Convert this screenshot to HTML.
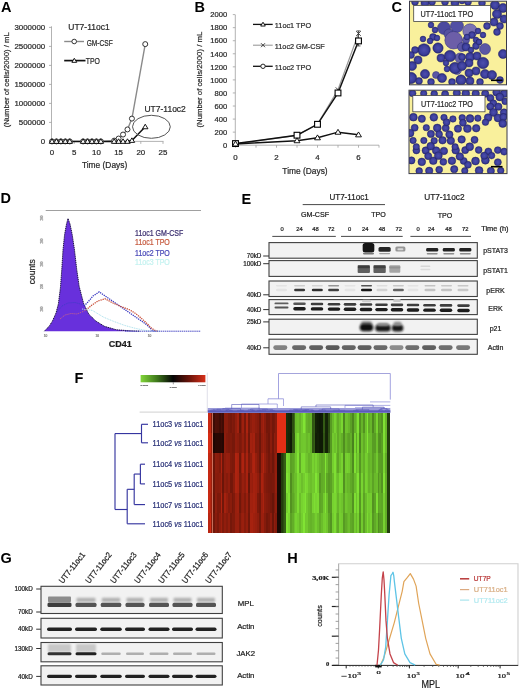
<!DOCTYPE html>
<html><head><meta charset="utf-8"><style>
html,body{margin:0;padding:0;background:#fff;}
body{width:520px;height:690px;overflow:hidden;}
svg{display:block;filter:blur(0.3px);font-family:"Liberation Sans", sans-serif;}
text{stroke-width:0.22px;paint-order:stroke;}
</style></head><body>
<svg width="520" height="690" viewBox="0 0 520 690">
<defs><radialGradient id="cellg"><stop offset="0" stop-color="#4c4eae"/><stop offset="0.7" stop-color="#3b3d9a"/><stop offset="1" stop-color="#25276e"/></radialGradient>
<clipPath id="c1"><rect x="409.5" y="1.2" width="97" height="83.6"/></clipPath>
<clipPath id="c2"><rect x="409" y="90.2" width="98" height="83.4"/></clipPath>
<filter id="bl" x="-20%" y="-50%" width="140%" height="200%"><feGaussianBlur stdDeviation="0.55"/></filter>
<filter id="bl2" x="-20%" y="-50%" width="140%" height="200%"><feGaussianBlur stdDeviation="0.9"/></filter>
<linearGradient id="cbar" x1="0" x2="1" y1="0" y2="0"><stop offset="0" stop-color="#82d63a"/><stop offset="0.25" stop-color="#3f7a1c"/><stop offset="0.5" stop-color="#050505"/><stop offset="0.75" stop-color="#6a140a"/><stop offset="1" stop-color="#d8301a"/></linearGradient></defs>
<rect width="520" height="690" fill="#fff"/>
<text x="0.9" y="11.6" font-size="14.5" font-weight="bold" fill="#000">A</text>
<text x="194.4" y="11.8" font-size="14.5" font-weight="bold" fill="#000">B</text>
<text x="391.4" y="11.6" font-size="14.5" font-weight="bold" fill="#000">C</text>
<text x="0.6" y="203.4" font-size="14.5" font-weight="bold" fill="#000">D</text>
<text x="241.4" y="203.8" font-size="14.5" font-weight="bold" fill="#000">E</text>
<text x="74.6" y="382.9" font-size="14.5" font-weight="bold" fill="#000">F</text>
<text x="0.4" y="562.8" font-size="14.5" font-weight="bold" fill="#000">G</text>
<text x="287.3" y="562.8" font-size="14.5" font-weight="bold" fill="#000">H</text>
<line x1="51.5" y1="26.3" x2="51.5" y2="141.4" stroke="#a0a0a0" stroke-width="0.8"/>
<line x1="51.5" y1="141.4" x2="163.5" y2="141.4" stroke="#a0a0a0" stroke-width="0.8"/>
<line x1="49" y1="141.4" x2="51.5" y2="141.4" stroke="#a0a0a0" stroke-width="0.8"/>
<text x="45.2" y="144.24" font-size="7.9" fill="#2a2a2a" stroke="#2a2a2a" text-anchor="end">0</text>
<line x1="49" y1="122.4" x2="51.5" y2="122.4" stroke="#a0a0a0" stroke-width="0.8"/>
<text x="45.2" y="125.24" font-size="7.9" fill="#2a2a2a" stroke="#2a2a2a" text-anchor="end">500000</text>
<line x1="49" y1="103.4" x2="51.5" y2="103.4" stroke="#a0a0a0" stroke-width="0.8"/>
<text x="45.2" y="106.24" font-size="7.9" fill="#2a2a2a" stroke="#2a2a2a" text-anchor="end">1000000</text>
<line x1="49" y1="84.4" x2="51.5" y2="84.4" stroke="#a0a0a0" stroke-width="0.8"/>
<text x="45.2" y="87.24" font-size="7.9" fill="#2a2a2a" stroke="#2a2a2a" text-anchor="end">1500000</text>
<line x1="49" y1="65.4" x2="51.5" y2="65.4" stroke="#a0a0a0" stroke-width="0.8"/>
<text x="45.2" y="68.24" font-size="7.9" fill="#2a2a2a" stroke="#2a2a2a" text-anchor="end">2000000</text>
<line x1="49" y1="46.4" x2="51.5" y2="46.4" stroke="#a0a0a0" stroke-width="0.8"/>
<text x="45.2" y="49.24" font-size="7.9" fill="#2a2a2a" stroke="#2a2a2a" text-anchor="end">2500000</text>
<line x1="49" y1="27.4" x2="51.5" y2="27.4" stroke="#a0a0a0" stroke-width="0.8"/>
<text x="45.2" y="30.24" font-size="7.9" fill="#2a2a2a" stroke="#2a2a2a" text-anchor="end">3000000</text>
<line x1="52" y1="141.4" x2="52" y2="143.9" stroke="#a0a0a0" stroke-width="0.8"/>
<text x="52" y="155.04" font-size="7.9" fill="#2a2a2a" stroke="#2a2a2a" text-anchor="middle">0</text>
<line x1="74.2" y1="141.4" x2="74.2" y2="143.9" stroke="#a0a0a0" stroke-width="0.8"/>
<text x="74.2" y="155.04" font-size="7.9" fill="#2a2a2a" stroke="#2a2a2a" text-anchor="middle">5</text>
<line x1="96.4" y1="141.4" x2="96.4" y2="143.9" stroke="#a0a0a0" stroke-width="0.8"/>
<text x="96.4" y="155.04" font-size="7.9" fill="#2a2a2a" stroke="#2a2a2a" text-anchor="middle">10</text>
<line x1="118.6" y1="141.4" x2="118.6" y2="143.9" stroke="#a0a0a0" stroke-width="0.8"/>
<text x="118.6" y="155.04" font-size="7.9" fill="#2a2a2a" stroke="#2a2a2a" text-anchor="middle">15</text>
<line x1="140.8" y1="141.4" x2="140.8" y2="143.9" stroke="#a0a0a0" stroke-width="0.8"/>
<text x="140.8" y="155.04" font-size="7.9" fill="#2a2a2a" stroke="#2a2a2a" text-anchor="middle">20</text>
<line x1="163" y1="141.4" x2="163" y2="143.9" stroke="#a0a0a0" stroke-width="0.8"/>
<text x="163" y="155.04" font-size="7.9" fill="#2a2a2a" stroke="#2a2a2a" text-anchor="middle">25</text>
<text x="104.6" y="168.32" font-size="8.4" fill="#2a2a2a" stroke="#2a2a2a" text-anchor="middle">Time (Days)</text>
<text x="5.8" y="82.54" font-size="7.6" fill="#2a2a2a" stroke="#2a2a2a" text-anchor="middle" textLength="95" lengthAdjust="spacingAndGlyphs" transform="rotate(-90 5.8 79.8)">(Number of cells/2000) / mL</text>
<text x="68.3" y="30.22" font-size="8.4" fill="#2a2a2a" stroke="#2a2a2a" textLength="41.3" lengthAdjust="spacingAndGlyphs">UT7-11oc1</text>
<line x1="64.2" y1="41.5" x2="84" y2="41.5" stroke="#8a8a8a" stroke-width="1.4"/>
<circle cx="74.2" cy="41.5" r="2.3" fill="#fff" stroke="#333" stroke-width="1"/>
<text x="86.7" y="46.36" font-size="8.5" fill="#2a2a2a" stroke="#2a2a2a" textLength="26" lengthAdjust="spacingAndGlyphs">GM-CSF</text>
<line x1="64.2" y1="60.6" x2="85.5" y2="60.6" stroke="#111" stroke-width="1.7"/>
<polygon points="74.3,58.3 76.72,62.33 71.88,62.33" fill="#fff" stroke="#000" stroke-width="0.9"/>
<text x="85.8" y="64.06" font-size="8.5" fill="#2a2a2a" stroke="#2a2a2a" textLength="14.2" lengthAdjust="spacingAndGlyphs">TPO</text>
<polyline points="52,141.4 56.44,141.4 60.88,141.4 65.32,141.4 69.76,141.4 83.08,141.4 87.52,141.4 91.96,141.4 96.4,141.4 100.84,141.4 114.16,140.64 118.6,138.55 123.04,134.56 127.48,129.43 131.92,118.6 145.24,44.12" fill="none" stroke="#8a8a8a" stroke-width="1.4"/>
<polyline points="52,141.4 56.44,141.4 60.88,141.4 65.32,141.4 69.76,141.4 83.08,141.4 87.52,141.4 91.96,141.4 96.4,141.4 100.84,141.4 114.16,141.4 118.6,141.4 123.04,141.4 127.48,141.4 131.92,140.45 145.24,126.81" fill="none" stroke="#111" stroke-width="1.5"/>
<circle cx="52" cy="141.4" r="2.5" fill="#fff" stroke="#333" stroke-width="1"/>
<circle cx="56.44" cy="141.4" r="2.5" fill="#fff" stroke="#333" stroke-width="1"/>
<circle cx="60.88" cy="141.4" r="2.5" fill="#fff" stroke="#333" stroke-width="1"/>
<circle cx="65.32" cy="141.4" r="2.5" fill="#fff" stroke="#333" stroke-width="1"/>
<circle cx="69.76" cy="141.4" r="2.5" fill="#fff" stroke="#333" stroke-width="1"/>
<circle cx="83.08" cy="141.4" r="2.5" fill="#fff" stroke="#333" stroke-width="1"/>
<circle cx="87.52" cy="141.4" r="2.5" fill="#fff" stroke="#333" stroke-width="1"/>
<circle cx="91.96" cy="141.4" r="2.5" fill="#fff" stroke="#333" stroke-width="1"/>
<circle cx="96.4" cy="141.4" r="2.5" fill="#fff" stroke="#333" stroke-width="1"/>
<circle cx="100.84" cy="141.4" r="2.5" fill="#fff" stroke="#333" stroke-width="1"/>
<circle cx="114.16" cy="140.64" r="2.5" fill="#fff" stroke="#333" stroke-width="1"/>
<circle cx="118.6" cy="138.55" r="2.5" fill="#fff" stroke="#333" stroke-width="1"/>
<circle cx="123.04" cy="134.56" r="2.5" fill="#fff" stroke="#333" stroke-width="1"/>
<circle cx="127.48" cy="129.43" r="2.5" fill="#fff" stroke="#333" stroke-width="1"/>
<circle cx="131.92" cy="118.6" r="2.5" fill="#fff" stroke="#333" stroke-width="1"/>
<circle cx="145.24" cy="44.12" r="2.5" fill="#fff" stroke="#333" stroke-width="1"/>
<polygon points="52,138.8 54.73,143.35 49.27,143.35" fill="#fff" stroke="#000" stroke-width="0.9"/>
<polygon points="56.44,138.8 59.17,143.35 53.71,143.35" fill="#fff" stroke="#000" stroke-width="0.9"/>
<polygon points="60.88,138.8 63.61,143.35 58.15,143.35" fill="#fff" stroke="#000" stroke-width="0.9"/>
<polygon points="65.32,138.8 68.05,143.35 62.59,143.35" fill="#fff" stroke="#000" stroke-width="0.9"/>
<polygon points="69.76,138.8 72.49,143.35 67.03,143.35" fill="#fff" stroke="#000" stroke-width="0.9"/>
<polygon points="83.08,138.8 85.81,143.35 80.35,143.35" fill="#fff" stroke="#000" stroke-width="0.9"/>
<polygon points="87.52,138.8 90.25,143.35 84.79,143.35" fill="#fff" stroke="#000" stroke-width="0.9"/>
<polygon points="91.96,138.8 94.69,143.35 89.23,143.35" fill="#fff" stroke="#000" stroke-width="0.9"/>
<polygon points="96.4,138.8 99.13,143.35 93.67,143.35" fill="#fff" stroke="#000" stroke-width="0.9"/>
<polygon points="100.84,138.8 103.57,143.35 98.11,143.35" fill="#fff" stroke="#000" stroke-width="0.9"/>
<polygon points="114.16,138.8 116.89,143.35 111.43,143.35" fill="#fff" stroke="#000" stroke-width="0.9"/>
<polygon points="118.6,138.8 121.33,143.35 115.87,143.35" fill="#fff" stroke="#000" stroke-width="0.9"/>
<polygon points="123.04,138.8 125.77,143.35 120.31,143.35" fill="#fff" stroke="#000" stroke-width="0.9"/>
<polygon points="127.48,138.8 130.21,143.35 124.75,143.35" fill="#fff" stroke="#000" stroke-width="0.9"/>
<polygon points="131.92,137.85 134.65,142.4 129.19,142.4" fill="#fff" stroke="#000" stroke-width="0.9"/>
<polygon points="145.24,124.21 147.97,128.76 142.51,128.76" fill="#fff" stroke="#000" stroke-width="0.9"/>
<ellipse cx="151.4" cy="126.8" rx="18.9" ry="11.5" fill="none" stroke="#555" stroke-width="1.0"/>
<text x="144.5" y="112.02" font-size="8.4" fill="#2a2a2a" stroke="#2a2a2a" textLength="41.3" lengthAdjust="spacingAndGlyphs">UT7-11oc2</text>
<line x1="235.3" y1="14.8" x2="235.3" y2="145.2" stroke="#a0a0a0" stroke-width="0.8"/>
<line x1="235.3" y1="145.2" x2="379" y2="145.2" stroke="#a0a0a0" stroke-width="0.8"/>
<line x1="232.8" y1="145.2" x2="235.3" y2="145.2" stroke="#a0a0a0" stroke-width="0.8"/>
<text x="227.2" y="147.94" font-size="7.6" fill="#2a2a2a" stroke="#2a2a2a" text-anchor="end">0</text>
<line x1="232.8" y1="132.14" x2="235.3" y2="132.14" stroke="#a0a0a0" stroke-width="0.8"/>
<text x="227.2" y="134.88" font-size="7.6" fill="#2a2a2a" stroke="#2a2a2a" text-anchor="end">200</text>
<line x1="232.8" y1="119.08" x2="235.3" y2="119.08" stroke="#a0a0a0" stroke-width="0.8"/>
<text x="227.2" y="121.82" font-size="7.6" fill="#2a2a2a" stroke="#2a2a2a" text-anchor="end">400</text>
<line x1="232.8" y1="106.02" x2="235.3" y2="106.02" stroke="#a0a0a0" stroke-width="0.8"/>
<text x="227.2" y="108.76" font-size="7.6" fill="#2a2a2a" stroke="#2a2a2a" text-anchor="end">600</text>
<line x1="232.8" y1="92.96" x2="235.3" y2="92.96" stroke="#a0a0a0" stroke-width="0.8"/>
<text x="227.2" y="95.7" font-size="7.6" fill="#2a2a2a" stroke="#2a2a2a" text-anchor="end">800</text>
<line x1="232.8" y1="79.9" x2="235.3" y2="79.9" stroke="#a0a0a0" stroke-width="0.8"/>
<text x="227.2" y="82.64" font-size="7.6" fill="#2a2a2a" stroke="#2a2a2a" text-anchor="end">1000</text>
<line x1="232.8" y1="66.84" x2="235.3" y2="66.84" stroke="#a0a0a0" stroke-width="0.8"/>
<text x="227.2" y="69.58" font-size="7.6" fill="#2a2a2a" stroke="#2a2a2a" text-anchor="end">1200</text>
<line x1="232.8" y1="53.78" x2="235.3" y2="53.78" stroke="#a0a0a0" stroke-width="0.8"/>
<text x="227.2" y="56.52" font-size="7.6" fill="#2a2a2a" stroke="#2a2a2a" text-anchor="end">1400</text>
<line x1="232.8" y1="40.72" x2="235.3" y2="40.72" stroke="#a0a0a0" stroke-width="0.8"/>
<text x="227.2" y="43.46" font-size="7.6" fill="#2a2a2a" stroke="#2a2a2a" text-anchor="end">1600</text>
<line x1="232.8" y1="27.66" x2="235.3" y2="27.66" stroke="#a0a0a0" stroke-width="0.8"/>
<text x="227.2" y="30.4" font-size="7.6" fill="#2a2a2a" stroke="#2a2a2a" text-anchor="end">1800</text>
<line x1="232.8" y1="14.6" x2="235.3" y2="14.6" stroke="#a0a0a0" stroke-width="0.8"/>
<text x="227.2" y="17.34" font-size="7.6" fill="#2a2a2a" stroke="#2a2a2a" text-anchor="end">2000</text>
<line x1="235.5" y1="145.2" x2="235.5" y2="147.7" stroke="#a0a0a0" stroke-width="0.8"/>
<line x1="256" y1="145.2" x2="256" y2="147.7" stroke="#a0a0a0" stroke-width="0.8"/>
<line x1="276.5" y1="145.2" x2="276.5" y2="147.7" stroke="#a0a0a0" stroke-width="0.8"/>
<line x1="297" y1="145.2" x2="297" y2="147.7" stroke="#a0a0a0" stroke-width="0.8"/>
<line x1="317.5" y1="145.2" x2="317.5" y2="147.7" stroke="#a0a0a0" stroke-width="0.8"/>
<line x1="338" y1="145.2" x2="338" y2="147.7" stroke="#a0a0a0" stroke-width="0.8"/>
<line x1="358.5" y1="145.2" x2="358.5" y2="147.7" stroke="#a0a0a0" stroke-width="0.8"/>
<line x1="379" y1="145.2" x2="379" y2="147.7" stroke="#a0a0a0" stroke-width="0.8"/>
<text x="235.5" y="159.84" font-size="7.9" fill="#2a2a2a" stroke="#2a2a2a" text-anchor="middle">0</text>
<text x="276.5" y="159.84" font-size="7.9" fill="#2a2a2a" stroke="#2a2a2a" text-anchor="middle">2</text>
<text x="317.5" y="159.84" font-size="7.9" fill="#2a2a2a" stroke="#2a2a2a" text-anchor="middle">4</text>
<text x="358.5" y="159.84" font-size="7.9" fill="#2a2a2a" stroke="#2a2a2a" text-anchor="middle">6</text>
<text x="305" y="174.22" font-size="8.4" fill="#2a2a2a" stroke="#2a2a2a" text-anchor="middle">Time (Days)</text>
<text x="199.5" y="82.34" font-size="7.6" fill="#2a2a2a" stroke="#2a2a2a" text-anchor="middle" textLength="95.8" lengthAdjust="spacingAndGlyphs" transform="rotate(-90 199.5 79.6)">(Number of cells/2000) / mL</text>
<line x1="253" y1="24.4" x2="272.7" y2="24.4" stroke="#111" stroke-width="1.3"/>
<polygon points="263,22.2 265.31,26.05 260.69,26.05" fill="#fff" stroke="#000" stroke-width="0.9"/>
<text x="274.8" y="28.04" font-size="7.9" fill="#2a2a2a" stroke="#2a2a2a" textLength="36.3" lengthAdjust="spacingAndGlyphs">11oc1 TPO</text>
<line x1="253" y1="45.2" x2="272.7" y2="45.2" stroke="#9a9a9a" stroke-width="1.1"/>
<line x1="261" y1="43.2" x2="265" y2="47.2" stroke="#333" stroke-width="0.9"/>
<line x1="261" y1="47.2" x2="265" y2="43.2" stroke="#333" stroke-width="0.9"/>
<text x="274.8" y="49.24" font-size="7.9" fill="#2a2a2a" stroke="#2a2a2a" textLength="50" lengthAdjust="spacingAndGlyphs">11oc2 GM-CSF</text>
<line x1="253" y1="66.3" x2="272.7" y2="66.3" stroke="#111" stroke-width="1.3"/>
<circle cx="263" cy="66.3" r="2.2" fill="#fff" stroke="#111" stroke-width="0.9"/>
<text x="274.8" y="69.94" font-size="7.9" fill="#2a2a2a" stroke="#2a2a2a" textLength="36.3" lengthAdjust="spacingAndGlyphs">11oc2 TPO</text>
<polyline points="235.5,143.89 297,135.41 317.5,123.98 338,89.69 358.5,33.54" fill="none" stroke="#9a9a9a" stroke-width="1.2"/>
<polyline points="235.5,143.57 297,135.21 317.5,124.3 338,92.96 358.5,40.92" fill="none" stroke="#111" stroke-width="1.5"/>
<polyline points="235.5,143.89 297,140.63 317.5,137.69 338,132.14 358.5,134.75" fill="none" stroke="#111" stroke-width="1.5"/>
<line x1="358.5" y1="30.92" x2="358.5" y2="45.94" stroke="#333" stroke-width="0.8"/>
<line x1="356.5" y1="30.92" x2="360.5" y2="30.92" stroke="#333" stroke-width="0.8"/>
<line x1="356.5" y1="45.94" x2="360.5" y2="45.94" stroke="#333" stroke-width="0.8"/>
<line x1="233.2" y1="141.59" x2="237.8" y2="146.19" stroke="#333" stroke-width="0.9"/>
<line x1="233.2" y1="146.19" x2="237.8" y2="141.59" stroke="#333" stroke-width="0.9"/>
<line x1="294.7" y1="133.1" x2="299.3" y2="137.71" stroke="#333" stroke-width="0.9"/>
<line x1="294.7" y1="137.71" x2="299.3" y2="133.1" stroke="#333" stroke-width="0.9"/>
<line x1="315.2" y1="121.68" x2="319.8" y2="126.28" stroke="#333" stroke-width="0.9"/>
<line x1="315.2" y1="126.28" x2="319.8" y2="121.68" stroke="#333" stroke-width="0.9"/>
<line x1="335.7" y1="87.39" x2="340.3" y2="91.99" stroke="#333" stroke-width="0.9"/>
<line x1="335.7" y1="91.99" x2="340.3" y2="87.39" stroke="#333" stroke-width="0.9"/>
<line x1="356.2" y1="31.24" x2="360.8" y2="35.84" stroke="#333" stroke-width="0.9"/>
<line x1="356.2" y1="35.84" x2="360.8" y2="31.24" stroke="#333" stroke-width="0.9"/>
<rect x="232.6" y="140.67" width="5.8" height="5.8" fill="#fff" stroke="#000" stroke-width="1.1"/>
<rect x="294.1" y="132.31" width="5.8" height="5.8" fill="#fff" stroke="#000" stroke-width="1.1"/>
<rect x="314.6" y="121.4" width="5.8" height="5.8" fill="#fff" stroke="#000" stroke-width="1.1"/>
<rect x="335.1" y="90.06" width="5.8" height="5.8" fill="#fff" stroke="#000" stroke-width="1.1"/>
<rect x="355.6" y="38.02" width="5.8" height="5.8" fill="#fff" stroke="#000" stroke-width="1.1"/>
<polygon points="235.5,141.09 238.44,145.99 232.56,145.99" fill="#fff" stroke="#000" stroke-width="0.9"/>
<polygon points="297,137.83 299.94,142.73 294.06,142.73" fill="#fff" stroke="#000" stroke-width="0.9"/>
<polygon points="317.5,134.89 320.44,139.79 314.56,139.79" fill="#fff" stroke="#000" stroke-width="0.9"/>
<polygon points="338,129.34 340.94,134.24 335.06,134.24" fill="#fff" stroke="#000" stroke-width="0.9"/>
<polygon points="358.5,131.95 361.44,136.85 355.56,136.85" fill="#fff" stroke="#000" stroke-width="0.9"/>
<rect x="409.5" y="1.2" width="97" height="83.6" fill="#f9f09c"/>
<g clip-path="url(#c1)">
<circle cx="444" cy="28" r="6.5" fill="#4c4a9e" stroke="#2e2f78" stroke-width="0.5"/>
<circle cx="457" cy="26" r="6.5" fill="#5250a4" stroke="#2e2f78" stroke-width="0.5"/>
<circle cx="449" cy="34" r="5" fill="#55529f" stroke="#2e2f78" stroke-width="0.5"/>
<circle cx="453.6" cy="40.2" r="8.8" fill="#6c5ea8" stroke="#2e2f78" stroke-width="0.5"/>
<circle cx="470" cy="31" r="7.2" fill="#7a72b4" stroke="#2e2f78" stroke-width="0.5"/>
<circle cx="462" cy="47" r="4.5" fill="#5a55a5" stroke="#2e2f78" stroke-width="0.5"/>
<circle cx="466" cy="40" r="3.5" fill="#5a55a5" stroke="#2e2f78" stroke-width="0.5"/>
<circle cx="460" cy="58" r="5" fill="#6460a8" stroke="#2e2f78" stroke-width="0.5"/>
<circle cx="457" cy="70" r="4.5" fill="#6662aa" stroke="#2e2f78" stroke-width="0.5"/>
<circle cx="415" cy="2" r="3.45" fill="url(#cellg)" stroke="#2e2f78" stroke-width="0.5"/>
<circle cx="425" cy="3" r="4.02" fill="url(#cellg)" stroke="#2e2f78" stroke-width="0.5"/>
<circle cx="432" cy="2" r="3.45" fill="url(#cellg)" stroke="#2e2f78" stroke-width="0.5"/>
<circle cx="445" cy="2" r="3.45" fill="url(#cellg)" stroke="#2e2f78" stroke-width="0.5"/>
<circle cx="455" cy="3" r="4.02" fill="url(#cellg)" stroke="#2e2f78" stroke-width="0.5"/>
<circle cx="468" cy="2" r="3.45" fill="url(#cellg)" stroke="#2e2f78" stroke-width="0.5"/>
<circle cx="482" cy="3" r="3.45" fill="url(#cellg)" stroke="#2e2f78" stroke-width="0.5"/>
<circle cx="462" cy="1" r="2.88" fill="url(#cellg)" stroke="#2e2f78" stroke-width="0.5"/>
<circle cx="495" cy="5" r="4.6" fill="url(#cellg)" stroke="#2e2f78" stroke-width="0.5"/>
<circle cx="503" cy="8" r="4.6" fill="url(#cellg)" stroke="#2e2f78" stroke-width="0.5"/>
<circle cx="497" cy="14" r="4.6" fill="url(#cellg)" stroke="#2e2f78" stroke-width="0.5"/>
<circle cx="504" cy="19" r="4.02" fill="url(#cellg)" stroke="#2e2f78" stroke-width="0.5"/>
<circle cx="494" cy="22" r="4.02" fill="url(#cellg)" stroke="#2e2f78" stroke-width="0.5"/>
<circle cx="500" cy="26" r="3.45" fill="url(#cellg)" stroke="#2e2f78" stroke-width="0.5"/>
<circle cx="431" cy="25" r="2.88" fill="url(#cellg)" stroke="#2e2f78" stroke-width="0.5"/>
<circle cx="435" cy="30" r="2.88" fill="url(#cellg)" stroke="#2e2f78" stroke-width="0.5"/>
<circle cx="433" cy="37" r="3.45" fill="url(#cellg)" stroke="#2e2f78" stroke-width="0.5"/>
<circle cx="430" cy="41" r="2.88" fill="url(#cellg)" stroke="#2e2f78" stroke-width="0.5"/>
<circle cx="423" cy="39" r="2.88" fill="url(#cellg)" stroke="#2e2f78" stroke-width="0.5"/>
<circle cx="437" cy="38" r="2.88" fill="url(#cellg)" stroke="#2e2f78" stroke-width="0.5"/>
<circle cx="478" cy="31" r="2.88" fill="url(#cellg)" stroke="#2e2f78" stroke-width="0.5"/>
<circle cx="483" cy="35" r="2.88" fill="url(#cellg)" stroke="#2e2f78" stroke-width="0.5"/>
<circle cx="472" cy="35" r="3.45" fill="url(#cellg)" stroke="#2e2f78" stroke-width="0.5"/>
<circle cx="476" cy="40" r="2.88" fill="url(#cellg)" stroke="#2e2f78" stroke-width="0.5"/>
<circle cx="467" cy="37" r="2.88" fill="url(#cellg)" stroke="#2e2f78" stroke-width="0.5"/>
<circle cx="497" cy="32" r="3.45" fill="url(#cellg)" stroke="#2e2f78" stroke-width="0.5"/>
<circle cx="479" cy="42" r="2.88" fill="url(#cellg)" stroke="#2e2f78" stroke-width="0.5"/>
<circle cx="487" cy="26" r="3.45" fill="url(#cellg)" stroke="#2e2f78" stroke-width="0.5"/>
<circle cx="424" cy="50" r="6.32" fill="url(#cellg)" stroke="#2e2f78" stroke-width="0.5"/>
<circle cx="415" cy="50" r="3.45" fill="url(#cellg)" stroke="#2e2f78" stroke-width="0.5"/>
<circle cx="438" cy="48" r="5.17" fill="url(#cellg)" stroke="#2e2f78" stroke-width="0.5"/>
<circle cx="411" cy="55" r="3.45" fill="url(#cellg)" stroke="#2e2f78" stroke-width="0.5"/>
<circle cx="418" cy="60" r="4.02" fill="url(#cellg)" stroke="#2e2f78" stroke-width="0.5"/>
<circle cx="412" cy="66" r="4.6" fill="url(#cellg)" stroke="#2e2f78" stroke-width="0.5"/>
<circle cx="441" cy="58" r="4.02" fill="url(#cellg)" stroke="#2e2f78" stroke-width="0.5"/>
<circle cx="450" cy="56" r="5.75" fill="url(#cellg)" stroke="#2e2f78" stroke-width="0.5"/>
<circle cx="455" cy="68" r="5.75" fill="url(#cellg)" stroke="#2e2f78" stroke-width="0.5"/>
<circle cx="447" cy="69" r="2.88" fill="url(#cellg)" stroke="#2e2f78" stroke-width="0.5"/>
<circle cx="411" cy="78" r="5.75" fill="url(#cellg)" stroke="#2e2f78" stroke-width="0.5"/>
<circle cx="425" cy="74" r="4.6" fill="url(#cellg)" stroke="#2e2f78" stroke-width="0.5"/>
<circle cx="436" cy="75" r="3.5" fill="#5a57a5" stroke="#2e2f78" stroke-width="0.5"/>
<circle cx="442" cy="78" r="4.6" fill="url(#cellg)" stroke="#2e2f78" stroke-width="0.5"/>
<circle cx="431" cy="82" r="3.45" fill="url(#cellg)" stroke="#2e2f78" stroke-width="0.5"/>
<circle cx="452" cy="82" r="3.45" fill="url(#cellg)" stroke="#2e2f78" stroke-width="0.5"/>
<circle cx="419" cy="81" r="3.45" fill="url(#cellg)" stroke="#2e2f78" stroke-width="0.5"/>
<circle cx="446" cy="63" r="2.88" fill="url(#cellg)" stroke="#2e2f78" stroke-width="0.5"/>
<circle cx="466" cy="47" r="4.02" fill="url(#cellg)" stroke="#2e2f78" stroke-width="0.5"/>
<circle cx="476" cy="46" r="3.45" fill="url(#cellg)" stroke="#2e2f78" stroke-width="0.5"/>
<circle cx="471" cy="50" r="2.88" fill="url(#cellg)" stroke="#2e2f78" stroke-width="0.5"/>
<circle cx="485" cy="49" r="5.5" fill="#5a57a5" stroke="#2e2f78" stroke-width="0.5"/>
<circle cx="470" cy="57" r="4.6" fill="url(#cellg)" stroke="#2e2f78" stroke-width="0.5"/>
<circle cx="477" cy="56" r="4.02" fill="url(#cellg)" stroke="#2e2f78" stroke-width="0.5"/>
<circle cx="462" cy="57" r="3.45" fill="url(#cellg)" stroke="#2e2f78" stroke-width="0.5"/>
<circle cx="483" cy="63" r="5.75" fill="url(#cellg)" stroke="#2e2f78" stroke-width="0.5"/>
<circle cx="469" cy="63" r="4.02" fill="url(#cellg)" stroke="#2e2f78" stroke-width="0.5"/>
<circle cx="462" cy="66" r="4.6" fill="url(#cellg)" stroke="#2e2f78" stroke-width="0.5"/>
<circle cx="476" cy="71" r="4.02" fill="url(#cellg)" stroke="#2e2f78" stroke-width="0.5"/>
<circle cx="469" cy="73" r="4.02" fill="url(#cellg)" stroke="#2e2f78" stroke-width="0.5"/>
<circle cx="485" cy="74" r="4.6" fill="url(#cellg)" stroke="#2e2f78" stroke-width="0.5"/>
<circle cx="492" cy="75" r="4.6" fill="url(#cellg)" stroke="#2e2f78" stroke-width="0.5"/>
<circle cx="500" cy="80" r="3.45" fill="url(#cellg)" stroke="#2e2f78" stroke-width="0.5"/>
<circle cx="461" cy="80" r="5.17" fill="url(#cellg)" stroke="#2e2f78" stroke-width="0.5"/>
<circle cx="503" cy="54" r="4.6" fill="url(#cellg)" stroke="#2e2f78" stroke-width="0.5"/>
<circle cx="479" cy="42" r="2.88" fill="url(#cellg)" stroke="#2e2f78" stroke-width="0.5"/>
<circle cx="470" cy="81" r="4.02" fill="url(#cellg)" stroke="#2e2f78" stroke-width="0.5"/>
<circle cx="480" cy="82" r="3.45" fill="url(#cellg)" stroke="#2e2f78" stroke-width="0.5"/>
</g>
<rect x="409.5" y="1.2" width="97" height="83.6" fill="none" stroke="#3a3a4a" stroke-width="1"/>
<rect x="413.7" y="5.5" width="76.8" height="16" fill="#fff" stroke="#444" stroke-width="0.8"/>
<text x="420.6" y="16.62" font-size="8.4" fill="#2a2a2a" stroke="#2a2a2a" textLength="52.5" lengthAdjust="spacingAndGlyphs">UT7-11oc1 TPO</text>
<line x1="491" y1="80.3" x2="502.5" y2="80.3" stroke="#000" stroke-width="1.6"/>
<rect x="409" y="90.2" width="98" height="83.4" fill="#f9f09c"/>
<g clip-path="url(#c2)">
<circle cx="412.5" cy="93.23" r="3.5" fill="url(#cellg)" stroke="#2e2f78" stroke-width="0.5"/>
<circle cx="423.7" cy="93.4" r="3.25" fill="url(#cellg)" stroke="#2e2f78" stroke-width="0.5"/>
<circle cx="434.2" cy="93.84" r="3.41" fill="url(#cellg)" stroke="#2e2f78" stroke-width="0.5"/>
<circle cx="445.1" cy="94.17" r="3.58" fill="url(#cellg)" stroke="#2e2f78" stroke-width="0.5"/>
<circle cx="456.79" cy="93.09" r="3.71" fill="url(#cellg)" stroke="#2e2f78" stroke-width="0.5"/>
<circle cx="465.8" cy="93.42" r="3.89" fill="url(#cellg)" stroke="#2e2f78" stroke-width="0.5"/>
<circle cx="475.71" cy="93.64" r="3.74" fill="url(#cellg)" stroke="#2e2f78" stroke-width="0.5"/>
<circle cx="485.18" cy="93.68" r="3.67" fill="url(#cellg)" stroke="#2e2f78" stroke-width="0.5"/>
<circle cx="496.64" cy="92.16" r="3.89" fill="url(#cellg)" stroke="#2e2f78" stroke-width="0.5"/>
<circle cx="504.3" cy="93.6" r="3.9" fill="url(#cellg)" stroke="#2e2f78" stroke-width="0.5"/>
<circle cx="490.45" cy="97.93" r="3.52" fill="url(#cellg)" stroke="#2e2f78" stroke-width="0.5"/>
<circle cx="499.77" cy="96.94" r="3.95" fill="url(#cellg)" stroke="#2e2f78" stroke-width="0.5"/>
<circle cx="505.15" cy="101.43" r="3.31" fill="url(#cellg)" stroke="#2e2f78" stroke-width="0.5"/>
<circle cx="493.33" cy="103.24" r="3.55" fill="url(#cellg)" stroke="#2e2f78" stroke-width="0.5"/>
<circle cx="490.27" cy="106.55" r="3.61" fill="url(#cellg)" stroke="#2e2f78" stroke-width="0.5"/>
<circle cx="498.38" cy="106.65" r="3.67" fill="url(#cellg)" stroke="#2e2f78" stroke-width="0.5"/>
<circle cx="504.01" cy="112.51" r="3.75" fill="url(#cellg)" stroke="#2e2f78" stroke-width="0.5"/>
<circle cx="493.51" cy="112.41" r="3.99" fill="url(#cellg)" stroke="#2e2f78" stroke-width="0.5"/>
<circle cx="413.4" cy="117.22" r="3.89" fill="url(#cellg)" stroke="#2e2f78" stroke-width="0.5"/>
<circle cx="421.84" cy="118.77" r="3.66" fill="url(#cellg)" stroke="#2e2f78" stroke-width="0.5"/>
<circle cx="433.84" cy="117.32" r="3.87" fill="url(#cellg)" stroke="#2e2f78" stroke-width="0.5"/>
<circle cx="443.98" cy="117.47" r="3.25" fill="url(#cellg)" stroke="#2e2f78" stroke-width="0.5"/>
<circle cx="452.92" cy="118.95" r="3.27" fill="url(#cellg)" stroke="#2e2f78" stroke-width="0.5"/>
<circle cx="462.2" cy="117.74" r="3.32" fill="url(#cellg)" stroke="#2e2f78" stroke-width="0.5"/>
<circle cx="470.01" cy="118.48" r="3.9" fill="url(#cellg)" stroke="#2e2f78" stroke-width="0.5"/>
<circle cx="477.84" cy="118.16" r="3.24" fill="url(#cellg)" stroke="#2e2f78" stroke-width="0.5"/>
<circle cx="488.12" cy="117.57" r="3.9" fill="url(#cellg)" stroke="#2e2f78" stroke-width="0.5"/>
<circle cx="498.06" cy="117.93" r="4" fill="url(#cellg)" stroke="#2e2f78" stroke-width="0.5"/>
<circle cx="503.44" cy="117.04" r="3.68" fill="url(#cellg)" stroke="#2e2f78" stroke-width="0.5"/>
<circle cx="414.68" cy="127.73" r="3.53" fill="url(#cellg)" stroke="#2e2f78" stroke-width="0.5"/>
<circle cx="426.32" cy="127.64" r="3.23" fill="url(#cellg)" stroke="#2e2f78" stroke-width="0.5"/>
<circle cx="437.29" cy="127.97" r="3.97" fill="url(#cellg)" stroke="#2e2f78" stroke-width="0.5"/>
<circle cx="445.7" cy="128.1" r="3.57" fill="url(#cellg)" stroke="#2e2f78" stroke-width="0.5"/>
<circle cx="457.96" cy="128.66" r="3.68" fill="url(#cellg)" stroke="#2e2f78" stroke-width="0.5"/>
<circle cx="467.43" cy="128.61" r="3.95" fill="url(#cellg)" stroke="#2e2f78" stroke-width="0.5"/>
<circle cx="476.2" cy="128.22" r="3.78" fill="url(#cellg)" stroke="#2e2f78" stroke-width="0.5"/>
<circle cx="502.77" cy="123.51" r="3.98" fill="url(#cellg)" stroke="#2e2f78" stroke-width="0.5"/>
<circle cx="413.09" cy="140.46" r="3.21" fill="url(#cellg)" stroke="#2e2f78" stroke-width="0.5"/>
<circle cx="423.83" cy="140.53" r="3.22" fill="url(#cellg)" stroke="#2e2f78" stroke-width="0.5"/>
<circle cx="434.16" cy="140.64" r="3.25" fill="url(#cellg)" stroke="#2e2f78" stroke-width="0.5"/>
<circle cx="442.53" cy="140.29" r="3.74" fill="url(#cellg)" stroke="#2e2f78" stroke-width="0.5"/>
<circle cx="450.83" cy="140.79" r="3.79" fill="url(#cellg)" stroke="#2e2f78" stroke-width="0.5"/>
<circle cx="461.62" cy="139.44" r="3.74" fill="url(#cellg)" stroke="#2e2f78" stroke-width="0.5"/>
<circle cx="474.54" cy="139.84" r="3.57" fill="url(#cellg)" stroke="#2e2f78" stroke-width="0.5"/>
<circle cx="416.37" cy="150.42" r="3.49" fill="url(#cellg)" stroke="#2e2f78" stroke-width="0.5"/>
<circle cx="425.7" cy="150.52" r="3.68" fill="url(#cellg)" stroke="#2e2f78" stroke-width="0.5"/>
<circle cx="436.11" cy="150.54" r="3.82" fill="url(#cellg)" stroke="#2e2f78" stroke-width="0.5"/>
<circle cx="443.89" cy="150.94" r="3.79" fill="url(#cellg)" stroke="#2e2f78" stroke-width="0.5"/>
<circle cx="455.7" cy="150.22" r="3.84" fill="url(#cellg)" stroke="#2e2f78" stroke-width="0.5"/>
<circle cx="465.2" cy="150.14" r="3.55" fill="url(#cellg)" stroke="#2e2f78" stroke-width="0.5"/>
<circle cx="478.68" cy="149.96" r="3.46" fill="url(#cellg)" stroke="#2e2f78" stroke-width="0.5"/>
<circle cx="488.36" cy="151.49" r="3.55" fill="url(#cellg)" stroke="#2e2f78" stroke-width="0.5"/>
<circle cx="497.79" cy="150.11" r="3.47" fill="url(#cellg)" stroke="#2e2f78" stroke-width="0.5"/>
<circle cx="504.15" cy="151.6" r="3.56" fill="url(#cellg)" stroke="#2e2f78" stroke-width="0.5"/>
<circle cx="411.43" cy="160.44" r="3.62" fill="url(#cellg)" stroke="#2e2f78" stroke-width="0.5"/>
<circle cx="421.79" cy="161.87" r="3.87" fill="url(#cellg)" stroke="#2e2f78" stroke-width="0.5"/>
<circle cx="433.26" cy="160.77" r="3.85" fill="url(#cellg)" stroke="#2e2f78" stroke-width="0.5"/>
<circle cx="443.34" cy="161.87" r="3.48" fill="url(#cellg)" stroke="#2e2f78" stroke-width="0.5"/>
<circle cx="451.93" cy="160.8" r="3.84" fill="url(#cellg)" stroke="#2e2f78" stroke-width="0.5"/>
<circle cx="463.7" cy="160.91" r="3.53" fill="url(#cellg)" stroke="#2e2f78" stroke-width="0.5"/>
<circle cx="475.49" cy="161.04" r="3.94" fill="url(#cellg)" stroke="#2e2f78" stroke-width="0.5"/>
<circle cx="485.38" cy="160.2" r="3.95" fill="url(#cellg)" stroke="#2e2f78" stroke-width="0.5"/>
<circle cx="497.84" cy="162.25" r="3.55" fill="url(#cellg)" stroke="#2e2f78" stroke-width="0.5"/>
<circle cx="419.2" cy="170.99" r="3.38" fill="url(#cellg)" stroke="#2e2f78" stroke-width="0.5"/>
<circle cx="429.21" cy="170.8" r="3.73" fill="url(#cellg)" stroke="#2e2f78" stroke-width="0.5"/>
<circle cx="439.17" cy="169.66" r="3.47" fill="url(#cellg)" stroke="#2e2f78" stroke-width="0.5"/>
<circle cx="454.22" cy="169.2" r="3.67" fill="url(#cellg)" stroke="#2e2f78" stroke-width="0.5"/>
<circle cx="464.78" cy="170.75" r="3.24" fill="url(#cellg)" stroke="#2e2f78" stroke-width="0.5"/>
<circle cx="479.11" cy="170.51" r="3.94" fill="url(#cellg)" stroke="#2e2f78" stroke-width="0.5"/>
<circle cx="490.84" cy="170.94" r="3.66" fill="url(#cellg)" stroke="#2e2f78" stroke-width="0.5"/>
<circle cx="500.73" cy="170.61" r="3.34" fill="url(#cellg)" stroke="#2e2f78" stroke-width="0.5"/>
<circle cx="430.89" cy="133.92" r="3.62" fill="url(#cellg)" stroke="#2e2f78" stroke-width="0.5"/>
<circle cx="449.39" cy="134.49" r="3.69" fill="url(#cellg)" stroke="#2e2f78" stroke-width="0.5"/>
<circle cx="410.1" cy="133.06" r="3.89" fill="url(#cellg)" stroke="#2e2f78" stroke-width="0.5"/>
<circle cx="439.09" cy="134.17" r="3.48" fill="url(#cellg)" stroke="#2e2f78" stroke-width="0.5"/>
<circle cx="430.68" cy="146.17" r="3.85" fill="url(#cellg)" stroke="#2e2f78" stroke-width="0.5"/>
<circle cx="469.75" cy="146.71" r="3.94" fill="url(#cellg)" stroke="#2e2f78" stroke-width="0.5"/>
<circle cx="416.29" cy="146.77" r="3.21" fill="url(#cellg)" stroke="#2e2f78" stroke-width="0.5"/>
<circle cx="455.06" cy="146.86" r="3.24" fill="url(#cellg)" stroke="#2e2f78" stroke-width="0.5"/>
<circle cx="428.22" cy="156.05" r="3.62" fill="url(#cellg)" stroke="#2e2f78" stroke-width="0.5"/>
<circle cx="459.84" cy="156.48" r="3.82" fill="url(#cellg)" stroke="#2e2f78" stroke-width="0.5"/>
<circle cx="491.58" cy="155.61" r="3.3" fill="url(#cellg)" stroke="#2e2f78" stroke-width="0.5"/>
<circle cx="438.35" cy="155.63" r="3.98" fill="url(#cellg)" stroke="#2e2f78" stroke-width="0.5"/>
<circle cx="484.23" cy="155.67" r="3.6" fill="url(#cellg)" stroke="#2e2f78" stroke-width="0.5"/>
<circle cx="446.58" cy="122.23" r="3.48" fill="url(#cellg)" stroke="#2e2f78" stroke-width="0.5"/>
<circle cx="462.92" cy="122.8" r="3.49" fill="url(#cellg)" stroke="#2e2f78" stroke-width="0.5"/>
<circle cx="485.45" cy="122.26" r="3.3" fill="url(#cellg)" stroke="#2e2f78" stroke-width="0.5"/>
<circle cx="467.95" cy="164.81" r="3.5" fill="url(#cellg)" stroke="#2e2f78" stroke-width="0.5"/>
</g>
<rect x="409" y="90.2" width="98" height="83.4" fill="none" stroke="#3a3a4a" stroke-width="1"/>
<rect x="412.8" y="95.6" width="72.2" height="16.2" fill="#fff" stroke="#444" stroke-width="0.8"/>
<text x="421" y="107.02" font-size="8.4" fill="#2a2a2a" stroke="#2a2a2a" textLength="52" lengthAdjust="spacingAndGlyphs">UT7-11oc2 TPO</text>
<line x1="491" y1="166.7" x2="502.5" y2="166.7" stroke="#000" stroke-width="1.6"/>
<line x1="45.7" y1="210.5" x2="201" y2="210.5" stroke="#a0a0a0" stroke-width="1.2"/>
<polygon points="44.4,331.2 45.6,329.8 49,326.5 52.5,321 56,313 58.4,303.8 60.5,287 61.8,269.2 63,250 64.6,234.6 66.5,224 68,218.5 70,224 72.2,234.6 74.5,250 76.7,269.2 79.2,286.5 83.7,303.8 88.8,314.2 95.8,321 104.4,326.3 116.5,329.8 130,330.8 140,331.2" fill="#6830dc" stroke="none" stroke-width="1"/>
<polyline points="44.4,331.2 45.6,329.8 49,326.5 52.5,321 56,313 58.4,303.8 60.5,287 61.8,269.2 63,250 64.6,234.6 66.5,224 68,218.5 70,224 72.2,234.6 74.5,250 76.7,269.2 79.2,286.5 83.7,303.8 88.8,314.2 95.8,321 104.4,326.3 116.5,329.8 130,330.8 140,331.2" fill="none" stroke="#1c1240" stroke-width="1" stroke-dasharray="1.2,0.7"/>
<polyline points="57,312 62,306 68,303 75,302.5 84,305" fill="none" stroke="#3c3cc4" stroke-width="0.9" stroke-dasharray="1,1"/>
<polyline points="60,319 65,315 71,313.5 77,314 82,312 86,310" fill="none" stroke="#d86a78" stroke-width="0.9" stroke-dasharray="1,1"/>
<polyline points="84,306 88,302 93,296 99.2,291.9 108,298 117.7,304.6 127,311 136,317.3 143,322 148.8,326.5 152.3,330.5 156,331.2" fill="none" stroke="#3636c0" stroke-width="1.3" stroke-dasharray="1.3,0.9"/>
<polyline points="86,310 92,305 98,301 105,298.8 113,303 122.3,307 130,310 136,313.8 141,318 145.4,322 151,327.7 155,330.5 158,331.2" fill="none" stroke="#c84c36" stroke-width="1.3" stroke-dasharray="1.3,0.9"/>
<polyline points="82,309 92.3,310.4 103.8,317.3 114,321.5 124.6,325.4 134,328 143,330 150,331 160,331.2" fill="none" stroke="#a8e0ec" stroke-width="1" stroke-dasharray="1,0.8"/>
<line x1="125" y1="331.2" x2="200.8" y2="331.2" stroke="#3a3ac0" stroke-width="0.9" stroke-dasharray="1.5,0.6"/>
<text x="45.4" y="336.95" font-size="3.2" fill="#888" stroke="#888" text-anchor="middle">10</text>
<text x="97.3" y="336.95" font-size="3.2" fill="#888" stroke="#888" text-anchor="middle">10</text>
<text x="149.5" y="336.95" font-size="3.2" fill="#888" stroke="#888" text-anchor="middle">10</text>
<text x="42" y="219.08" font-size="3" fill="#999" stroke="#999" text-anchor="middle" transform="rotate(-90 42 218)">200</text>
<text x="42" y="242.08" font-size="3" fill="#999" stroke="#999" text-anchor="middle" transform="rotate(-90 42 241)">200</text>
<text x="42" y="265.08" font-size="3" fill="#999" stroke="#999" text-anchor="middle" transform="rotate(-90 42 264)">200</text>
<text x="42" y="287.58" font-size="3" fill="#999" stroke="#999" text-anchor="middle" transform="rotate(-90 42 286.5)">200</text>
<text x="42" y="310.08" font-size="3" fill="#999" stroke="#999" text-anchor="middle" transform="rotate(-90 42 309)">200</text>
<text x="32.5" y="274.75" font-size="8.2" fill="#2a2a2a" stroke="#2a2a2a" text-anchor="middle" textLength="25" lengthAdjust="spacingAndGlyphs" transform="rotate(-90 32.5 271.8)">counts</text>
<text x="108.8" y="346.78" font-size="9.4" fill="#1a1a1a" stroke="#1a1a1a" font-weight="bold" textLength="23" lengthAdjust="spacingAndGlyphs">CD41</text>
<text x="135" y="235.75" font-size="8.2" fill="#3b2f70" stroke="#3b2f70" textLength="48.3" lengthAdjust="spacingAndGlyphs">11oc1 GM-CSF</text>
<text x="135" y="245.15" font-size="8.2" fill="#c65a3e" stroke="#c65a3e" textLength="34.8" lengthAdjust="spacingAndGlyphs">11oc1 TPO</text>
<text x="135" y="255.55" font-size="8.2" fill="#4848b8" stroke="#4848b8" textLength="34.8" lengthAdjust="spacingAndGlyphs">11oc2 TPO</text>
<text x="135" y="264.95" font-size="8.2" fill="#c4f2f0" stroke="#c4f2f0" textLength="34.8" lengthAdjust="spacingAndGlyphs">11oc3 TPO</text>
<text x="329.4" y="199.57" font-size="8.8" fill="#1e1e1e" stroke="#1e1e1e" textLength="39.3" lengthAdjust="spacingAndGlyphs">UT7-11oc1</text>
<text x="424.2" y="199.57" font-size="8.8" fill="#1e1e1e" stroke="#1e1e1e" textLength="40.4" lengthAdjust="spacingAndGlyphs">UT7-11oc2</text>
<line x1="302.7" y1="204.6" x2="385" y2="204.6" stroke="#333" stroke-width="0.9"/>
<text x="315" y="217.36" font-size="7.1" fill="#1e1e1e" stroke="#1e1e1e" text-anchor="middle" textLength="28.2" lengthAdjust="spacingAndGlyphs">GM-CSF</text>
<text x="378.5" y="216.86" font-size="7.1" fill="#1e1e1e" stroke="#1e1e1e" text-anchor="middle">TPO</text>
<text x="445" y="218.06" font-size="7.1" fill="#1e1e1e" stroke="#1e1e1e" text-anchor="middle">TPO</text>
<text x="282" y="230.89" font-size="5.8" fill="#1e1e1e" stroke="#1e1e1e" text-anchor="middle">0</text>
<text x="299.4" y="230.89" font-size="5.8" fill="#1e1e1e" stroke="#1e1e1e" text-anchor="middle">24</text>
<text x="315.5" y="230.89" font-size="5.8" fill="#1e1e1e" stroke="#1e1e1e" text-anchor="middle">48</text>
<text x="331.2" y="230.89" font-size="5.8" fill="#1e1e1e" stroke="#1e1e1e" text-anchor="middle">72</text>
<text x="349.6" y="230.89" font-size="5.8" fill="#1e1e1e" stroke="#1e1e1e" text-anchor="middle">0</text>
<text x="365.3" y="230.89" font-size="5.8" fill="#1e1e1e" stroke="#1e1e1e" text-anchor="middle">24</text>
<text x="382" y="230.89" font-size="5.8" fill="#1e1e1e" stroke="#1e1e1e" text-anchor="middle">48</text>
<text x="398.8" y="230.89" font-size="5.8" fill="#1e1e1e" stroke="#1e1e1e" text-anchor="middle">72</text>
<text x="418" y="230.89" font-size="5.8" fill="#1e1e1e" stroke="#1e1e1e" text-anchor="middle">0</text>
<text x="431.2" y="230.89" font-size="5.8" fill="#1e1e1e" stroke="#1e1e1e" text-anchor="middle">24</text>
<text x="448.5" y="230.89" font-size="5.8" fill="#1e1e1e" stroke="#1e1e1e" text-anchor="middle">48</text>
<text x="465.3" y="230.89" font-size="5.8" fill="#1e1e1e" stroke="#1e1e1e" text-anchor="middle">72</text>
<text x="481.2" y="230.92" font-size="7" fill="#1e1e1e" stroke="#1e1e1e" textLength="27.3" lengthAdjust="spacingAndGlyphs">Time (h)</text>
<line x1="272.3" y1="236.4" x2="335.8" y2="236.4" stroke="#333" stroke-width="0.9"/>
<line x1="341" y1="236.4" x2="402.7" y2="236.4" stroke="#333" stroke-width="0.9"/>
<line x1="410.4" y1="236.4" x2="471" y2="236.4" stroke="#333" stroke-width="0.9"/>
<rect x="269" y="242.6" width="208.3" height="15.6" fill="#f2f2f2" stroke="#404040" stroke-width="1.1"/>
<text x="495.5" y="253.32" font-size="7" fill="#1e1e1e" stroke="#1e1e1e" text-anchor="middle">pSTAT3</text>
<rect x="269" y="260.6" width="208.3" height="15.8" fill="#f2f2f2" stroke="#404040" stroke-width="1.1"/>
<text x="495.5" y="272.52" font-size="7" fill="#1e1e1e" stroke="#1e1e1e" text-anchor="middle">pSTAT1</text>
<rect x="269" y="281" width="208.3" height="15.5" fill="#f2f2f2" stroke="#404040" stroke-width="1.1"/>
<text x="495.5" y="292.92" font-size="7" fill="#1e1e1e" stroke="#1e1e1e" text-anchor="middle">pERK</text>
<rect x="269" y="299.6" width="208.3" height="15" fill="#f2f2f2" stroke="#404040" stroke-width="1.1"/>
<text x="495.5" y="310.52" font-size="7" fill="#1e1e1e" stroke="#1e1e1e" text-anchor="middle">ERK</text>
<rect x="269" y="319.2" width="208.3" height="15.2" fill="#f2f2f2" stroke="#404040" stroke-width="1.1"/>
<text x="495.5" y="330.82" font-size="7" fill="#1e1e1e" stroke="#1e1e1e" text-anchor="middle">p21</text>
<rect x="269" y="339.2" width="208.3" height="15.1" fill="#f2f2f2" stroke="#404040" stroke-width="1.1"/>
<text x="495.5" y="350.02" font-size="7" fill="#1e1e1e" stroke="#1e1e1e" text-anchor="middle">Actin</text>
<rect x="362.7" y="243.1" width="11.6" height="9.4" rx="2.5" fill="#121212" filter="url(#bl)"/>
<rect x="363" y="252.8" width="11" height="1.6" rx="0.8" fill="#787878" filter="url(#bl)"/>
<rect x="378.5" y="247.1" width="12.2" height="4.6" rx="1.5" fill="#282828" filter="url(#bl)"/>
<rect x="379.1" y="252.9" width="11" height="1.4" rx="0.7" fill="#a0a0a0" filter="url(#bl)"/>
<rect x="395.4" y="246.5" width="10" height="5" rx="1.5" fill="#969696" filter="url(#bl)"/>
<rect x="397.4" y="248.2" width="6" height="2" rx="1" fill="#d7d7d7" filter="url(#bl)"/>
<rect x="426.2" y="248.1" width="12" height="3.4" rx="1.2" fill="#232323" filter="url(#bl)"/>
<rect x="426.7" y="253" width="11" height="1.6" rx="0.8" fill="#8c8c8c" filter="url(#bl)"/>
<rect x="442.8" y="248.1" width="12" height="3.4" rx="1.2" fill="#232323" filter="url(#bl)"/>
<rect x="443.3" y="253" width="11" height="1.6" rx="0.8" fill="#8c8c8c" filter="url(#bl)"/>
<rect x="459.3" y="248.1" width="12" height="3.4" rx="1.2" fill="#232323" filter="url(#bl)"/>
<rect x="459.8" y="253" width="11" height="1.6" rx="0.8" fill="#8c8c8c" filter="url(#bl)"/>
<rect x="357.65" y="265" width="12.3" height="8" rx="1" fill="#5f5f5f" filter="url(#bl)"/>
<rect x="357.8" y="266.1" width="12" height="2.2" rx="1.1" fill="#3c3c3c" filter="url(#bl)"/>
<rect x="373.45" y="265" width="12.3" height="8" rx="1" fill="#5f5f5f" filter="url(#bl)"/>
<rect x="373.6" y="266.1" width="12" height="2.2" rx="1.1" fill="#414141" filter="url(#bl)"/>
<rect x="389.3" y="265.25" width="11" height="7.5" rx="1" fill="#a5a5a5" filter="url(#bl)"/>
<rect x="389.3" y="266.5" width="11" height="2" rx="1" fill="#919191" filter="url(#bl)"/>
<rect x="420.4" y="265.45" width="10" height="1.5" rx="0.75" fill="#d7d7d7" filter="url(#bl)"/>
<rect x="420.4" y="268.85" width="10" height="1.5" rx="0.75" fill="#dcdcdc" filter="url(#bl)"/>
<rect x="276" y="285.05" width="11" height="1.5" rx="0.75" fill="#e4e4e4" filter="url(#bl)"/>
<rect x="276" y="288.7" width="11" height="2.6" rx="1.3" fill="#e4e4e4" filter="url(#bl)"/>
<rect x="294.1" y="285.05" width="11" height="1.5" rx="0.75" fill="#cdcdcd" filter="url(#bl)"/>
<rect x="294.1" y="288.7" width="11" height="2.6" rx="1.3" fill="#373737" filter="url(#bl)"/>
<rect x="311.8" y="285.05" width="11" height="1.5" rx="0.75" fill="#d4d4d4" filter="url(#bl)"/>
<rect x="311.8" y="288.7" width="11" height="2.6" rx="1.3" fill="#2d2d2d" filter="url(#bl)"/>
<rect x="328.1" y="285.05" width="11" height="1.5" rx="0.75" fill="#969696" filter="url(#bl)"/>
<rect x="328.1" y="288.7" width="11" height="2.6" rx="1.3" fill="#414141" filter="url(#bl)"/>
<rect x="344.5" y="285.05" width="11" height="1.5" rx="0.75" fill="#e4e4e4" filter="url(#bl)"/>
<rect x="344.5" y="288.7" width="11" height="2.6" rx="1.3" fill="#e4e4e4" filter="url(#bl)"/>
<rect x="361" y="285.05" width="11" height="1.5" rx="0.75" fill="#555555" filter="url(#bl)"/>
<rect x="361" y="288.7" width="11" height="2.6" rx="1.3" fill="#141414" filter="url(#bl)"/>
<rect x="376.5" y="285.05" width="11" height="1.5" rx="0.75" fill="#dedede" filter="url(#bl)"/>
<rect x="376.5" y="288.7" width="11" height="2.6" rx="1.3" fill="#d2d2d2" filter="url(#bl)"/>
<rect x="392.9" y="285.05" width="11" height="1.5" rx="0.75" fill="#c8c8c8" filter="url(#bl)"/>
<rect x="392.9" y="288.7" width="11" height="2.6" rx="1.3" fill="#646464" filter="url(#bl)"/>
<rect x="407.5" y="285.05" width="11" height="1.5" rx="0.75" fill="#e4e4e4" filter="url(#bl)"/>
<rect x="407.5" y="288.7" width="11" height="2.6" rx="1.3" fill="#e4e4e4" filter="url(#bl)"/>
<rect x="424.5" y="285.05" width="11" height="1.5" rx="0.75" fill="#c3c3c3" filter="url(#bl)"/>
<rect x="424.5" y="288.7" width="11" height="2.6" rx="1.3" fill="#c3c3c3" filter="url(#bl)"/>
<rect x="441" y="285.05" width="11" height="1.5" rx="0.75" fill="#c8c8c8" filter="url(#bl)"/>
<rect x="441" y="288.7" width="11" height="2.6" rx="1.3" fill="#c3c3c3" filter="url(#bl)"/>
<rect x="457.5" y="285.05" width="11" height="1.5" rx="0.75" fill="#c8c8c8" filter="url(#bl)"/>
<rect x="457.5" y="288.7" width="11" height="2.6" rx="1.3" fill="#c8c8c8" filter="url(#bl)"/>
<rect x="274.5" y="302.5" width="14" height="1.8" rx="0.9" fill="#5f5f5f" filter="url(#bl)"/>
<rect x="274.5" y="306.6" width="14" height="2" rx="1" fill="#555555" filter="url(#bl)"/>
<rect x="293.25" y="302.5" width="12.5" height="2.6" rx="1.3" fill="#555555" filter="url(#bl)"/>
<rect x="293.25" y="307" width="12.5" height="3.4" rx="1.7" fill="#1c1c1c" filter="url(#bl)"/>
<rect x="310.75" y="302.69" width="12.5" height="2.6" rx="1.3" fill="#3c3c3c" filter="url(#bl)"/>
<rect x="310.75" y="307.19" width="12.5" height="3.4" rx="1.7" fill="#1c1c1c" filter="url(#bl)"/>
<rect x="327.75" y="302.88" width="12.5" height="2.6" rx="1.3" fill="#3c3c3c" filter="url(#bl)"/>
<rect x="327.75" y="307.38" width="12.5" height="3.4" rx="1.7" fill="#1c1c1c" filter="url(#bl)"/>
<rect x="343.75" y="303.05" width="12.5" height="2.6" rx="1.3" fill="#3c3c3c" filter="url(#bl)"/>
<rect x="343.75" y="307.55" width="12.5" height="3.4" rx="1.7" fill="#1c1c1c" filter="url(#bl)"/>
<rect x="359.75" y="303.23" width="12.5" height="2.6" rx="1.3" fill="#3c3c3c" filter="url(#bl)"/>
<rect x="359.75" y="307.73" width="12.5" height="3.4" rx="1.7" fill="#1c1c1c" filter="url(#bl)"/>
<rect x="375.25" y="303.4" width="12.5" height="2.6" rx="1.3" fill="#3c3c3c" filter="url(#bl)"/>
<rect x="375.25" y="307.9" width="12.5" height="3.4" rx="1.7" fill="#1c1c1c" filter="url(#bl)"/>
<rect x="390.75" y="303.57" width="12.5" height="2.6" rx="1.3" fill="#3c3c3c" filter="url(#bl)"/>
<rect x="390.75" y="308.07" width="12.5" height="3.4" rx="1.7" fill="#1c1c1c" filter="url(#bl)"/>
<rect x="406.75" y="303.75" width="12.5" height="2.6" rx="1.3" fill="#3c3c3c" filter="url(#bl)"/>
<rect x="406.75" y="308.25" width="12.5" height="3.4" rx="1.7" fill="#1c1c1c" filter="url(#bl)"/>
<rect x="423.25" y="303.93" width="12.5" height="2.6" rx="1.3" fill="#3c3c3c" filter="url(#bl)"/>
<rect x="423.25" y="308.43" width="12.5" height="3.4" rx="1.7" fill="#1c1c1c" filter="url(#bl)"/>
<rect x="439.75" y="304.11" width="12.5" height="2.6" rx="1.3" fill="#3c3c3c" filter="url(#bl)"/>
<rect x="439.75" y="308.61" width="12.5" height="3.4" rx="1.7" fill="#1c1c1c" filter="url(#bl)"/>
<rect x="457.25" y="304.3" width="12.5" height="2.6" rx="1.3" fill="#3c3c3c" filter="url(#bl)"/>
<rect x="457.25" y="308.8" width="12.5" height="3.4" rx="1.7" fill="#1c1c1c" filter="url(#bl)"/>
<rect x="362" y="299.75" width="9" height="2.5" rx="1.25" fill="#cdcdcd" filter="url(#bl)"/>
<rect x="393" y="299" width="8" height="3" rx="1.5" fill="#c8c8c8" filter="url(#bl)"/>
<rect x="361" y="321" width="11" height="5" rx="2.5" fill="#8c8c8c" filter="url(#bl2)"/>
<rect x="359.75" y="323.85" width="13.5" height="7.5" rx="3.75" fill="#0f0f0f" filter="url(#bl2)"/>
<rect x="375.25" y="324.5" width="15.5" height="7" rx="3.5" fill="#141414" filter="url(#bl2)"/>
<rect x="391.85" y="324.5" width="11.5" height="7" rx="3.5" fill="#191919" filter="url(#bl2)"/>
<rect x="377.5" y="323" width="11" height="3" rx="1.5" fill="#8c8c8c" filter="url(#bl2)"/>
<rect x="393.6" y="321.8" width="8" height="4" rx="2" fill="#8c8c8c" filter="url(#bl2)"/>
<rect x="273.3" y="345.3" width="14" height="4.6" rx="2.3" fill="#828282" filter="url(#bl)"/>
<rect x="292.1" y="345.3" width="14" height="4.6" rx="2.3" fill="#696969" filter="url(#bl)"/>
<rect x="309.1" y="345.3" width="14" height="4.6" rx="2.3" fill="#5f5f5f" filter="url(#bl)"/>
<rect x="325.6" y="345.3" width="14" height="4.6" rx="2.3" fill="#5a5a5a" filter="url(#bl)"/>
<rect x="341.8" y="345.3" width="14" height="4.6" rx="2.3" fill="#646464" filter="url(#bl)"/>
<rect x="357.6" y="345.3" width="14" height="4.6" rx="2.3" fill="#5f5f5f" filter="url(#bl)"/>
<rect x="373.5" y="345.3" width="14" height="4.6" rx="2.3" fill="#696969" filter="url(#bl)"/>
<rect x="389.5" y="345.3" width="14" height="4.6" rx="2.3" fill="#8c8c8c" filter="url(#bl)"/>
<rect x="405.3" y="345.3" width="14" height="4.6" rx="2.3" fill="#6e6e6e" filter="url(#bl)"/>
<rect x="422.1" y="345.3" width="14" height="4.6" rx="2.3" fill="#5f5f5f" filter="url(#bl)"/>
<rect x="438.6" y="345.3" width="14" height="4.6" rx="2.3" fill="#6e6e6e" filter="url(#bl)"/>
<rect x="456.1" y="345.3" width="14" height="4.6" rx="2.3" fill="#787878" filter="url(#bl)"/>
<text x="261.4" y="258.27" font-size="6.3" fill="#1e1e1e" stroke="#1e1e1e" text-anchor="end">70kD</text>
<line x1="263.2" y1="256" x2="269" y2="256" stroke="#333" stroke-width="1"/>
<text x="261.4" y="265.97" font-size="6.3" fill="#1e1e1e" stroke="#1e1e1e" text-anchor="end">100kD</text>
<line x1="263.2" y1="263.7" x2="269" y2="263.7" stroke="#333" stroke-width="1"/>
<text x="261.4" y="297.07" font-size="6.3" fill="#1e1e1e" stroke="#1e1e1e" text-anchor="end">40kD</text>
<line x1="263.2" y1="294.8" x2="269" y2="294.8" stroke="#333" stroke-width="1"/>
<text x="261.4" y="311.87" font-size="6.3" fill="#1e1e1e" stroke="#1e1e1e" text-anchor="end">40kD</text>
<line x1="263.2" y1="309.6" x2="269" y2="309.6" stroke="#333" stroke-width="1"/>
<text x="261.4" y="324.17" font-size="6.3" fill="#1e1e1e" stroke="#1e1e1e" text-anchor="end">25kD</text>
<line x1="263.2" y1="321.9" x2="269" y2="321.9" stroke="#333" stroke-width="1"/>
<text x="261.4" y="350.07" font-size="6.3" fill="#1e1e1e" stroke="#1e1e1e" text-anchor="end">40kD</text>
<line x1="263.2" y1="347.8" x2="269" y2="347.8" stroke="#333" stroke-width="1"/>
<rect x="140.6" y="375" width="64.8" height="7.3" fill="url(#cbar)"/>
<line x1="207.3" y1="372.7" x2="207.3" y2="412" stroke="#d8d8e4" stroke-width="0.8"/>
<line x1="139.6" y1="412.1" x2="207.3" y2="412.1" stroke="#d0d0d0" stroke-width="1"/>
<text x="144" y="385.76" font-size="2.4" fill="#666" stroke="#666" text-anchor="middle">-1.0000</text>
<text x="173.3" y="387.86" font-size="2.4" fill="#666" stroke="#666" text-anchor="middle">0.0000</text>
<text x="202" y="385.76" font-size="2.4" fill="#666" stroke="#666" text-anchor="middle">1.0000</text>
<line x1="173.3" y1="382.3" x2="173.3" y2="384.3" stroke="#333" stroke-width="0.5"/>
<g shape-rendering="crispEdges">
<rect x="207.8" y="412.7" width="1.88" height="20.1" fill="#c82812"/>
<rect x="207.8" y="432.75" width="1.88" height="20.1" fill="#d62b13"/>
<rect x="207.8" y="452.8" width="1.88" height="20.1" fill="#c42812"/>
<rect x="207.8" y="472.85" width="1.88" height="20.1" fill="#c62812"/>
<rect x="207.8" y="492.9" width="1.88" height="20.1" fill="#c92912"/>
<rect x="207.8" y="512.95" width="1.88" height="20.1" fill="#b92511"/>
<rect x="209.62" y="412.7" width="1.88" height="20.1" fill="#ca2912"/>
<rect x="209.62" y="432.75" width="1.88" height="20.1" fill="#d12a13"/>
<rect x="209.62" y="452.8" width="1.88" height="20.1" fill="#b52510"/>
<rect x="209.62" y="472.85" width="1.88" height="20.1" fill="#be2611"/>
<rect x="209.62" y="492.9" width="1.88" height="20.1" fill="#b52510"/>
<rect x="209.62" y="512.95" width="1.88" height="20.1" fill="#d22a13"/>
<rect x="211.45" y="412.7" width="1.88" height="20.1" fill="#841b0c"/>
<rect x="211.45" y="432.75" width="1.88" height="20.1" fill="#a0200e"/>
<rect x="211.45" y="452.8" width="1.88" height="20.1" fill="#a6220f"/>
<rect x="211.45" y="472.85" width="1.88" height="20.1" fill="#9c200e"/>
<rect x="211.45" y="492.9" width="1.88" height="20.1" fill="#9b1f0e"/>
<rect x="211.45" y="512.95" width="1.88" height="20.1" fill="#8d1d0d"/>
<rect x="213.28" y="412.7" width="1.88" height="20.1" fill="#3c0c05"/>
<rect x="213.28" y="432.75" width="1.88" height="20.1" fill="#1d0602"/>
<rect x="213.28" y="452.8" width="1.88" height="20.1" fill="#6a1509"/>
<rect x="213.28" y="472.85" width="1.88" height="20.1" fill="#6b160a"/>
<rect x="213.28" y="492.9" width="1.88" height="20.1" fill="#671509"/>
<rect x="213.28" y="512.95" width="1.88" height="20.1" fill="#71170a"/>
<rect x="215.1" y="412.7" width="1.88" height="20.1" fill="#4d0f07"/>
<rect x="215.1" y="432.75" width="1.88" height="20.1" fill="#270803"/>
<rect x="215.1" y="452.8" width="1.88" height="20.1" fill="#8d1d0d"/>
<rect x="215.1" y="472.85" width="1.88" height="20.1" fill="#891c0c"/>
<rect x="215.1" y="492.9" width="1.88" height="20.1" fill="#8e1d0d"/>
<rect x="215.1" y="512.95" width="1.88" height="20.1" fill="#881b0c"/>
<rect x="216.93" y="412.7" width="1.88" height="20.1" fill="#4a0f06"/>
<rect x="216.93" y="432.75" width="1.88" height="20.1" fill="#280803"/>
<rect x="216.93" y="452.8" width="1.88" height="20.1" fill="#891c0c"/>
<rect x="216.93" y="472.85" width="1.88" height="20.1" fill="#861b0c"/>
<rect x="216.93" y="492.9" width="1.88" height="20.1" fill="#7b190b"/>
<rect x="216.93" y="512.95" width="1.88" height="20.1" fill="#79180b"/>
<rect x="218.75" y="412.7" width="1.88" height="20.1" fill="#3e0c05"/>
<rect x="218.75" y="432.75" width="1.88" height="20.1" fill="#270803"/>
<rect x="218.75" y="452.8" width="1.88" height="20.1" fill="#7e190b"/>
<rect x="218.75" y="472.85" width="1.88" height="20.1" fill="#8a1c0c"/>
<rect x="218.75" y="492.9" width="1.88" height="20.1" fill="#7e190b"/>
<rect x="218.75" y="512.95" width="1.88" height="20.1" fill="#8d1c0d"/>
<rect x="220.58" y="412.7" width="1.88" height="20.1" fill="#4c0f07"/>
<rect x="220.58" y="432.75" width="1.88" height="20.1" fill="#2b0804"/>
<rect x="220.58" y="452.8" width="1.88" height="20.1" fill="#ae2310"/>
<rect x="220.58" y="472.85" width="1.88" height="20.1" fill="#9f200e"/>
<rect x="220.58" y="492.9" width="1.88" height="20.1" fill="#b02410"/>
<rect x="220.58" y="512.95" width="1.88" height="20.1" fill="#9d200e"/>
<rect x="222.4" y="412.7" width="1.88" height="20.1" fill="#3f0c05"/>
<rect x="222.4" y="432.75" width="1.88" height="20.1" fill="#230703"/>
<rect x="222.4" y="452.8" width="1.88" height="20.1" fill="#6f160a"/>
<rect x="222.4" y="472.85" width="1.88" height="20.1" fill="#6b1509"/>
<rect x="222.4" y="492.9" width="1.88" height="20.1" fill="#71170a"/>
<rect x="222.4" y="512.95" width="1.88" height="20.1" fill="#801a0b"/>
<rect x="224.23" y="412.7" width="1.88" height="20.1" fill="#8a1c0c"/>
<rect x="224.23" y="432.75" width="1.88" height="20.1" fill="#8d1d0d"/>
<rect x="224.23" y="452.8" width="1.88" height="20.1" fill="#8f1d0d"/>
<rect x="224.23" y="472.85" width="1.88" height="20.1" fill="#8e1d0d"/>
<rect x="224.23" y="492.9" width="1.88" height="20.1" fill="#a5210f"/>
<rect x="224.23" y="512.95" width="1.88" height="20.1" fill="#911d0d"/>
<rect x="226.05" y="412.7" width="1.88" height="20.1" fill="#891c0c"/>
<rect x="226.05" y="432.75" width="1.88" height="20.1" fill="#821a0c"/>
<rect x="226.05" y="452.8" width="1.88" height="20.1" fill="#971e0e"/>
<rect x="226.05" y="472.85" width="1.88" height="20.1" fill="#851b0c"/>
<rect x="226.05" y="492.9" width="1.88" height="20.1" fill="#941e0d"/>
<rect x="226.05" y="512.95" width="1.88" height="20.1" fill="#851b0c"/>
<rect x="227.88" y="412.7" width="1.88" height="20.1" fill="#7b190b"/>
<rect x="227.88" y="432.75" width="1.88" height="20.1" fill="#7d190b"/>
<rect x="227.88" y="452.8" width="1.88" height="20.1" fill="#951e0d"/>
<rect x="227.88" y="472.85" width="1.88" height="20.1" fill="#911d0d"/>
<rect x="227.88" y="492.9" width="1.88" height="20.1" fill="#831a0c"/>
<rect x="227.88" y="512.95" width="1.88" height="20.1" fill="#931e0d"/>
<rect x="229.7" y="412.7" width="1.88" height="20.1" fill="#75170a"/>
<rect x="229.7" y="432.75" width="1.88" height="20.1" fill="#801a0b"/>
<rect x="229.7" y="452.8" width="1.88" height="20.1" fill="#801a0b"/>
<rect x="229.7" y="472.85" width="1.88" height="20.1" fill="#72170a"/>
<rect x="229.7" y="492.9" width="1.88" height="20.1" fill="#891c0c"/>
<rect x="229.7" y="512.95" width="1.88" height="20.1" fill="#75180a"/>
<rect x="231.53" y="412.7" width="1.88" height="20.1" fill="#811a0c"/>
<rect x="231.53" y="432.75" width="1.88" height="20.1" fill="#76180a"/>
<rect x="231.53" y="452.8" width="1.88" height="20.1" fill="#7a190b"/>
<rect x="231.53" y="472.85" width="1.88" height="20.1" fill="#74170a"/>
<rect x="231.53" y="492.9" width="1.88" height="20.1" fill="#75170a"/>
<rect x="231.53" y="512.95" width="1.88" height="20.1" fill="#811a0c"/>
<rect x="233.35" y="412.7" width="1.88" height="20.1" fill="#7b190b"/>
<rect x="233.35" y="432.75" width="1.88" height="20.1" fill="#76180b"/>
<rect x="233.35" y="452.8" width="1.88" height="20.1" fill="#7d190b"/>
<rect x="233.35" y="472.85" width="1.88" height="20.1" fill="#8a1c0c"/>
<rect x="233.35" y="492.9" width="1.88" height="20.1" fill="#7e190b"/>
<rect x="233.35" y="512.95" width="1.88" height="20.1" fill="#801a0b"/>
<rect x="235.18" y="412.7" width="1.88" height="20.1" fill="#911d0d"/>
<rect x="235.18" y="432.75" width="1.88" height="20.1" fill="#901d0d"/>
<rect x="235.18" y="452.8" width="1.88" height="20.1" fill="#af2310"/>
<rect x="235.18" y="472.85" width="1.88" height="20.1" fill="#ac2310"/>
<rect x="235.18" y="492.9" width="1.88" height="20.1" fill="#991f0e"/>
<rect x="235.18" y="512.95" width="1.88" height="20.1" fill="#971f0e"/>
<rect x="237" y="412.7" width="1.88" height="20.1" fill="#a1210f"/>
<rect x="237" y="432.75" width="1.88" height="20.1" fill="#8b1c0c"/>
<rect x="237" y="452.8" width="1.88" height="20.1" fill="#a8220f"/>
<rect x="237" y="472.85" width="1.88" height="20.1" fill="#a6220f"/>
<rect x="237" y="492.9" width="1.88" height="20.1" fill="#9d200e"/>
<rect x="237" y="512.95" width="1.88" height="20.1" fill="#981f0e"/>
<rect x="238.83" y="412.7" width="1.88" height="20.1" fill="#671509"/>
<rect x="238.83" y="432.75" width="1.88" height="20.1" fill="#7c190b"/>
<rect x="238.83" y="452.8" width="1.88" height="20.1" fill="#70170a"/>
<rect x="238.83" y="472.85" width="1.88" height="20.1" fill="#7b190b"/>
<rect x="238.83" y="492.9" width="1.88" height="20.1" fill="#71170a"/>
<rect x="238.83" y="512.95" width="1.88" height="20.1" fill="#7e190b"/>
<rect x="240.65" y="412.7" width="1.88" height="20.1" fill="#861b0c"/>
<rect x="240.65" y="432.75" width="1.88" height="20.1" fill="#831a0c"/>
<rect x="240.65" y="452.8" width="1.88" height="20.1" fill="#991f0e"/>
<rect x="240.65" y="472.85" width="1.88" height="20.1" fill="#861b0c"/>
<rect x="240.65" y="492.9" width="1.88" height="20.1" fill="#8a1c0c"/>
<rect x="240.65" y="512.95" width="1.88" height="20.1" fill="#941e0d"/>
<rect x="242.48" y="412.7" width="1.88" height="20.1" fill="#9e200e"/>
<rect x="242.48" y="432.75" width="1.88" height="20.1" fill="#931e0d"/>
<rect x="242.48" y="452.8" width="1.88" height="20.1" fill="#ae2310"/>
<rect x="242.48" y="472.85" width="1.88" height="20.1" fill="#971f0e"/>
<rect x="242.48" y="492.9" width="1.88" height="20.1" fill="#911d0d"/>
<rect x="242.48" y="512.95" width="1.88" height="20.1" fill="#991f0e"/>
<rect x="244.3" y="412.7" width="1.88" height="20.1" fill="#78180b"/>
<rect x="244.3" y="432.75" width="1.88" height="20.1" fill="#7b190b"/>
<rect x="244.3" y="452.8" width="1.88" height="20.1" fill="#861b0c"/>
<rect x="244.3" y="472.85" width="1.88" height="20.1" fill="#8c1c0d"/>
<rect x="244.3" y="492.9" width="1.88" height="20.1" fill="#801a0b"/>
<rect x="244.3" y="512.95" width="1.88" height="20.1" fill="#861b0c"/>
<rect x="246.12" y="412.7" width="1.88" height="20.1" fill="#ab230f"/>
<rect x="246.12" y="432.75" width="1.88" height="20.1" fill="#a1210f"/>
<rect x="246.12" y="452.8" width="1.88" height="20.1" fill="#a9220f"/>
<rect x="246.12" y="472.85" width="1.88" height="20.1" fill="#a6210f"/>
<rect x="246.12" y="492.9" width="1.88" height="20.1" fill="#971f0e"/>
<rect x="246.12" y="512.95" width="1.88" height="20.1" fill="#941e0d"/>
<rect x="247.95" y="412.7" width="1.88" height="20.1" fill="#76180b"/>
<rect x="247.95" y="432.75" width="1.88" height="20.1" fill="#71170a"/>
<rect x="247.95" y="452.8" width="1.88" height="20.1" fill="#7c190b"/>
<rect x="247.95" y="472.85" width="1.88" height="20.1" fill="#671509"/>
<rect x="247.95" y="492.9" width="1.88" height="20.1" fill="#75170a"/>
<rect x="247.95" y="512.95" width="1.88" height="20.1" fill="#71170a"/>
<rect x="249.78" y="412.7" width="1.88" height="20.1" fill="#8e1d0d"/>
<rect x="249.78" y="432.75" width="1.88" height="20.1" fill="#a2210f"/>
<rect x="249.78" y="452.8" width="1.88" height="20.1" fill="#8d1c0d"/>
<rect x="249.78" y="472.85" width="1.88" height="20.1" fill="#9b1f0e"/>
<rect x="249.78" y="492.9" width="1.88" height="20.1" fill="#a1210f"/>
<rect x="249.78" y="512.95" width="1.88" height="20.1" fill="#a6220f"/>
<rect x="251.6" y="412.7" width="1.88" height="20.1" fill="#9a1f0e"/>
<rect x="251.6" y="432.75" width="1.88" height="20.1" fill="#9c200e"/>
<rect x="251.6" y="452.8" width="1.88" height="20.1" fill="#a7220f"/>
<rect x="251.6" y="472.85" width="1.88" height="20.1" fill="#961e0d"/>
<rect x="251.6" y="492.9" width="1.88" height="20.1" fill="#a0200e"/>
<rect x="251.6" y="512.95" width="1.88" height="20.1" fill="#a7220f"/>
<rect x="253.43" y="412.7" width="1.88" height="20.1" fill="#981f0e"/>
<rect x="253.43" y="432.75" width="1.88" height="20.1" fill="#a4210f"/>
<rect x="253.43" y="452.8" width="1.88" height="20.1" fill="#ae2310"/>
<rect x="253.43" y="472.85" width="1.88" height="20.1" fill="#a4210f"/>
<rect x="253.43" y="492.9" width="1.88" height="20.1" fill="#a6220f"/>
<rect x="253.43" y="512.95" width="1.88" height="20.1" fill="#9e200e"/>
<rect x="255.25" y="412.7" width="1.88" height="20.1" fill="#8e1d0d"/>
<rect x="255.25" y="432.75" width="1.88" height="20.1" fill="#801a0b"/>
<rect x="255.25" y="452.8" width="1.88" height="20.1" fill="#951e0d"/>
<rect x="255.25" y="472.85" width="1.88" height="20.1" fill="#a0200e"/>
<rect x="255.25" y="492.9" width="1.88" height="20.1" fill="#9d200e"/>
<rect x="255.25" y="512.95" width="1.88" height="20.1" fill="#981f0e"/>
<rect x="257.07" y="412.7" width="1.88" height="20.1" fill="#871b0c"/>
<rect x="257.07" y="432.75" width="1.88" height="20.1" fill="#831a0c"/>
<rect x="257.07" y="452.8" width="1.88" height="20.1" fill="#851b0c"/>
<rect x="257.07" y="472.85" width="1.88" height="20.1" fill="#901d0d"/>
<rect x="257.07" y="492.9" width="1.88" height="20.1" fill="#7b190b"/>
<rect x="257.07" y="512.95" width="1.88" height="20.1" fill="#8d1d0d"/>
<rect x="258.9" y="412.7" width="1.88" height="20.1" fill="#70160a"/>
<rect x="258.9" y="432.75" width="1.88" height="20.1" fill="#6d160a"/>
<rect x="258.9" y="452.8" width="1.88" height="20.1" fill="#6c160a"/>
<rect x="258.9" y="472.85" width="1.88" height="20.1" fill="#77180b"/>
<rect x="258.9" y="492.9" width="1.88" height="20.1" fill="#72170a"/>
<rect x="258.9" y="512.95" width="1.88" height="20.1" fill="#75180a"/>
<rect x="260.73" y="412.7" width="1.88" height="20.1" fill="#961e0e"/>
<rect x="260.73" y="432.75" width="1.88" height="20.1" fill="#8e1d0d"/>
<rect x="260.73" y="452.8" width="1.88" height="20.1" fill="#9e200e"/>
<rect x="260.73" y="472.85" width="1.88" height="20.1" fill="#aa220f"/>
<rect x="260.73" y="492.9" width="1.88" height="20.1" fill="#9b1f0e"/>
<rect x="260.73" y="512.95" width="1.88" height="20.1" fill="#9a1f0e"/>
<rect x="262.55" y="412.7" width="1.88" height="20.1" fill="#a2210f"/>
<rect x="262.55" y="432.75" width="1.88" height="20.1" fill="#9b1f0e"/>
<rect x="262.55" y="452.8" width="1.88" height="20.1" fill="#b12410"/>
<rect x="262.55" y="472.85" width="1.88" height="20.1" fill="#9e200e"/>
<rect x="262.55" y="492.9" width="1.88" height="20.1" fill="#a9220f"/>
<rect x="262.55" y="512.95" width="1.88" height="20.1" fill="#9a1f0e"/>
<rect x="264.38" y="412.7" width="1.88" height="20.1" fill="#8b1c0d"/>
<rect x="264.38" y="432.75" width="1.88" height="20.1" fill="#8e1d0d"/>
<rect x="264.38" y="452.8" width="1.88" height="20.1" fill="#931e0d"/>
<rect x="264.38" y="472.85" width="1.88" height="20.1" fill="#861b0c"/>
<rect x="264.38" y="492.9" width="1.88" height="20.1" fill="#8b1c0c"/>
<rect x="264.38" y="512.95" width="1.88" height="20.1" fill="#841b0c"/>
<rect x="266.2" y="412.7" width="1.88" height="20.1" fill="#73170a"/>
<rect x="266.2" y="432.75" width="1.88" height="20.1" fill="#7b190b"/>
<rect x="266.2" y="452.8" width="1.88" height="20.1" fill="#811a0c"/>
<rect x="266.2" y="472.85" width="1.88" height="20.1" fill="#7d190b"/>
<rect x="266.2" y="492.9" width="1.88" height="20.1" fill="#831a0c"/>
<rect x="266.2" y="512.95" width="1.88" height="20.1" fill="#73170a"/>
<rect x="268.03" y="412.7" width="1.88" height="20.1" fill="#74170a"/>
<rect x="268.03" y="432.75" width="1.88" height="20.1" fill="#70160a"/>
<rect x="268.03" y="452.8" width="1.88" height="20.1" fill="#73170a"/>
<rect x="268.03" y="472.85" width="1.88" height="20.1" fill="#78180b"/>
<rect x="268.03" y="492.9" width="1.88" height="20.1" fill="#7d190b"/>
<rect x="268.03" y="512.95" width="1.88" height="20.1" fill="#7a190b"/>
<rect x="269.85" y="412.7" width="1.88" height="20.1" fill="#851b0c"/>
<rect x="269.85" y="432.75" width="1.88" height="20.1" fill="#891c0c"/>
<rect x="269.85" y="452.8" width="1.88" height="20.1" fill="#811a0c"/>
<rect x="269.85" y="472.85" width="1.88" height="20.1" fill="#77180b"/>
<rect x="269.85" y="492.9" width="1.88" height="20.1" fill="#76180b"/>
<rect x="269.85" y="512.95" width="1.88" height="20.1" fill="#8c1c0d"/>
<rect x="271.68" y="412.7" width="1.88" height="20.1" fill="#73170a"/>
<rect x="271.68" y="432.75" width="1.88" height="20.1" fill="#70160a"/>
<rect x="271.68" y="452.8" width="1.88" height="20.1" fill="#6e160a"/>
<rect x="271.68" y="472.85" width="1.88" height="20.1" fill="#7a180b"/>
<rect x="271.68" y="492.9" width="1.88" height="20.1" fill="#681509"/>
<rect x="271.68" y="512.95" width="1.88" height="20.1" fill="#6a1509"/>
<rect x="273.5" y="412.7" width="1.88" height="20.1" fill="#78180b"/>
<rect x="273.5" y="432.75" width="1.88" height="20.1" fill="#8d1d0d"/>
<rect x="273.5" y="452.8" width="1.88" height="20.1" fill="#831a0c"/>
<rect x="273.5" y="472.85" width="1.88" height="20.1" fill="#801a0b"/>
<rect x="273.5" y="492.9" width="1.88" height="20.1" fill="#7e190b"/>
<rect x="273.5" y="512.95" width="1.88" height="20.1" fill="#8e1d0d"/>
<rect x="275.32" y="412.7" width="1.88" height="20.1" fill="#871b0c"/>
<rect x="275.32" y="432.75" width="1.88" height="20.1" fill="#881b0c"/>
<rect x="275.32" y="452.8" width="1.88" height="20.1" fill="#921e0d"/>
<rect x="275.32" y="472.85" width="1.88" height="20.1" fill="#961e0e"/>
<rect x="275.32" y="492.9" width="1.88" height="20.1" fill="#8f1d0d"/>
<rect x="275.32" y="512.95" width="1.88" height="20.1" fill="#811a0c"/>
<rect x="277.15" y="412.7" width="1.88" height="20.1" fill="#e12e15"/>
<rect x="277.15" y="432.75" width="1.88" height="20.1" fill="#e12e15"/>
<rect x="277.15" y="452.8" width="1.88" height="20.1" fill="#190a05"/>
<rect x="277.15" y="472.85" width="1.88" height="20.1" fill="#190a05"/>
<rect x="277.15" y="492.9" width="1.88" height="20.1" fill="#190a05"/>
<rect x="277.15" y="512.95" width="1.88" height="20.1" fill="#190a05"/>
<rect x="278.98" y="412.7" width="1.88" height="20.1" fill="#e12e15"/>
<rect x="278.98" y="432.75" width="1.88" height="20.1" fill="#e12e15"/>
<rect x="278.98" y="452.8" width="1.88" height="20.1" fill="#190a05"/>
<rect x="278.98" y="472.85" width="1.88" height="20.1" fill="#190a05"/>
<rect x="278.98" y="492.9" width="1.88" height="20.1" fill="#190a05"/>
<rect x="278.98" y="512.95" width="1.88" height="20.1" fill="#190a05"/>
<rect x="280.8" y="412.7" width="1.88" height="20.1" fill="#e12e15"/>
<rect x="280.8" y="432.75" width="1.88" height="20.1" fill="#e12e15"/>
<rect x="280.8" y="452.8" width="1.88" height="20.1" fill="#223c0d"/>
<rect x="280.8" y="472.85" width="1.88" height="20.1" fill="#223c0d"/>
<rect x="280.8" y="492.9" width="1.88" height="20.1" fill="#223c0d"/>
<rect x="280.8" y="512.95" width="1.88" height="20.1" fill="#223c0d"/>
<rect x="282.62" y="412.7" width="1.88" height="20.1" fill="#e12e15"/>
<rect x="282.62" y="432.75" width="1.88" height="20.1" fill="#e12e15"/>
<rect x="282.62" y="452.8" width="1.88" height="20.1" fill="#2b4c11"/>
<rect x="282.62" y="472.85" width="1.88" height="20.1" fill="#2b4c11"/>
<rect x="282.62" y="492.9" width="1.88" height="20.1" fill="#2b4c11"/>
<rect x="282.62" y="512.95" width="1.88" height="20.1" fill="#2b4c11"/>
<rect x="284.45" y="412.7" width="1.88" height="20.1" fill="#e12e15"/>
<rect x="284.45" y="432.75" width="1.88" height="20.1" fill="#e12e15"/>
<rect x="284.45" y="452.8" width="1.88" height="20.1" fill="#345c15"/>
<rect x="284.45" y="472.85" width="1.88" height="20.1" fill="#345c15"/>
<rect x="284.45" y="492.9" width="1.88" height="20.1" fill="#345c15"/>
<rect x="284.45" y="512.95" width="1.88" height="20.1" fill="#345c15"/>
<rect x="286.27" y="412.7" width="1.88" height="20.1" fill="#192d0a"/>
<rect x="286.27" y="432.75" width="1.88" height="20.1" fill="#192d0a"/>
<rect x="286.27" y="452.8" width="1.88" height="20.1" fill="#7cda32"/>
<rect x="286.27" y="472.85" width="1.88" height="20.1" fill="#81e434"/>
<rect x="286.27" y="492.9" width="1.88" height="20.1" fill="#76d130"/>
<rect x="286.27" y="512.95" width="1.88" height="20.1" fill="#81e434"/>
<rect x="288.1" y="412.7" width="1.88" height="20.1" fill="#162709"/>
<rect x="288.1" y="432.75" width="1.88" height="20.1" fill="#152508"/>
<rect x="288.1" y="452.8" width="1.88" height="20.1" fill="#77d330"/>
<rect x="288.1" y="472.85" width="1.88" height="20.1" fill="#7ad731"/>
<rect x="288.1" y="492.9" width="1.88" height="20.1" fill="#7fe133"/>
<rect x="288.1" y="512.95" width="1.88" height="20.1" fill="#79d531"/>
<rect x="289.93" y="412.7" width="1.88" height="20.1" fill="#111e07"/>
<rect x="289.93" y="432.75" width="1.88" height="20.1" fill="#0e1a06"/>
<rect x="289.93" y="452.8" width="1.88" height="20.1" fill="#5ba025"/>
<rect x="289.93" y="472.85" width="1.88" height="20.1" fill="#508d20"/>
<rect x="289.93" y="492.9" width="1.88" height="20.1" fill="#539221"/>
<rect x="289.93" y="512.95" width="1.88" height="20.1" fill="#5ba025"/>
<rect x="291.75" y="412.7" width="1.88" height="20.1" fill="#2c4d11"/>
<rect x="291.75" y="432.75" width="1.88" height="20.1" fill="#2f5413"/>
<rect x="291.75" y="452.8" width="1.88" height="20.1" fill="#5ea726"/>
<rect x="291.75" y="472.85" width="1.88" height="20.1" fill="#61ab27"/>
<rect x="291.75" y="492.9" width="1.88" height="20.1" fill="#5ea626"/>
<rect x="291.75" y="512.95" width="1.88" height="20.1" fill="#63ae28"/>
<rect x="293.57" y="412.7" width="1.88" height="20.1" fill="#3c6a18"/>
<rect x="293.57" y="432.75" width="1.88" height="20.1" fill="#325914"/>
<rect x="293.57" y="452.8" width="1.88" height="20.1" fill="#63b028"/>
<rect x="293.57" y="472.85" width="1.88" height="20.1" fill="#6abb2b"/>
<rect x="293.57" y="492.9" width="1.88" height="20.1" fill="#65b229"/>
<rect x="293.57" y="512.95" width="1.88" height="20.1" fill="#6ec32d"/>
<rect x="295.4" y="412.7" width="1.88" height="20.1" fill="#6abc2b"/>
<rect x="295.4" y="432.75" width="1.88" height="20.1" fill="#71c82e"/>
<rect x="295.4" y="452.8" width="1.88" height="20.1" fill="#71c72e"/>
<rect x="295.4" y="472.85" width="1.88" height="20.1" fill="#6bbe2b"/>
<rect x="295.4" y="492.9" width="1.88" height="20.1" fill="#6dc02c"/>
<rect x="295.4" y="512.95" width="1.88" height="20.1" fill="#77d330"/>
<rect x="297.23" y="412.7" width="1.88" height="20.1" fill="#6ec22c"/>
<rect x="297.23" y="432.75" width="1.88" height="20.1" fill="#7ddc32"/>
<rect x="297.23" y="452.8" width="1.88" height="20.1" fill="#81e434"/>
<rect x="297.23" y="472.85" width="1.88" height="20.1" fill="#7bda32"/>
<rect x="297.23" y="492.9" width="1.88" height="20.1" fill="#7ddc32"/>
<rect x="297.23" y="512.95" width="1.88" height="20.1" fill="#73cc2f"/>
<rect x="299.05" y="412.7" width="1.88" height="20.1" fill="#66b429"/>
<rect x="299.05" y="432.75" width="1.88" height="20.1" fill="#68b82a"/>
<rect x="299.05" y="452.8" width="1.88" height="20.1" fill="#61ab27"/>
<rect x="299.05" y="472.85" width="1.88" height="20.1" fill="#75cf2f"/>
<rect x="299.05" y="492.9" width="1.88" height="20.1" fill="#6cbe2b"/>
<rect x="299.05" y="512.95" width="1.88" height="20.1" fill="#69ba2a"/>
<rect x="300.88" y="412.7" width="1.88" height="20.1" fill="#72c92e"/>
<rect x="300.88" y="432.75" width="1.88" height="20.1" fill="#70c62d"/>
<rect x="300.88" y="452.8" width="1.88" height="20.1" fill="#7bd932"/>
<rect x="300.88" y="472.85" width="1.88" height="20.1" fill="#6cbf2c"/>
<rect x="300.88" y="492.9" width="1.88" height="20.1" fill="#77d330"/>
<rect x="300.88" y="512.95" width="1.88" height="20.1" fill="#74ce2f"/>
<rect x="302.7" y="412.7" width="1.88" height="20.1" fill="#81e434"/>
<rect x="302.7" y="432.75" width="1.88" height="20.1" fill="#71c82e"/>
<rect x="302.7" y="452.8" width="1.88" height="20.1" fill="#7cdc32"/>
<rect x="302.7" y="472.85" width="1.88" height="20.1" fill="#74cc2f"/>
<rect x="302.7" y="492.9" width="1.88" height="20.1" fill="#7bda32"/>
<rect x="302.7" y="512.95" width="1.88" height="20.1" fill="#81e434"/>
<rect x="304.52" y="412.7" width="1.88" height="20.1" fill="#74cd2f"/>
<rect x="304.52" y="432.75" width="1.88" height="20.1" fill="#70c62d"/>
<rect x="304.52" y="452.8" width="1.88" height="20.1" fill="#73cb2f"/>
<rect x="304.52" y="472.85" width="1.88" height="20.1" fill="#7ede33"/>
<rect x="304.52" y="492.9" width="1.88" height="20.1" fill="#81e434"/>
<rect x="304.52" y="512.95" width="1.88" height="20.1" fill="#72c92e"/>
<rect x="306.35" y="412.7" width="1.88" height="20.1" fill="#65b229"/>
<rect x="306.35" y="432.75" width="1.88" height="20.1" fill="#69b92a"/>
<rect x="306.35" y="452.8" width="1.88" height="20.1" fill="#6fc42d"/>
<rect x="306.35" y="472.85" width="1.88" height="20.1" fill="#7ad731"/>
<rect x="306.35" y="492.9" width="1.88" height="20.1" fill="#71c82e"/>
<rect x="306.35" y="512.95" width="1.88" height="20.1" fill="#72ca2e"/>
<rect x="308.18" y="412.7" width="1.88" height="20.1" fill="#61ab27"/>
<rect x="308.18" y="432.75" width="1.88" height="20.1" fill="#6ec22c"/>
<rect x="308.18" y="452.8" width="1.88" height="20.1" fill="#66b529"/>
<rect x="308.18" y="472.85" width="1.88" height="20.1" fill="#6fc42d"/>
<rect x="308.18" y="492.9" width="1.88" height="20.1" fill="#69ba2b"/>
<rect x="308.18" y="512.95" width="1.88" height="20.1" fill="#68b82a"/>
<rect x="310" y="412.7" width="1.88" height="20.1" fill="#64b129"/>
<rect x="310" y="432.75" width="1.88" height="20.1" fill="#63af28"/>
<rect x="310" y="452.8" width="1.88" height="20.1" fill="#69ba2a"/>
<rect x="310" y="472.85" width="1.88" height="20.1" fill="#6cbe2b"/>
<rect x="310" y="492.9" width="1.88" height="20.1" fill="#64b028"/>
<rect x="310" y="512.95" width="1.88" height="20.1" fill="#65b229"/>
<rect x="311.82" y="412.7" width="1.88" height="20.1" fill="#315613"/>
<rect x="311.82" y="432.75" width="1.88" height="20.1" fill="#305413"/>
<rect x="311.82" y="452.8" width="1.88" height="20.1" fill="#77d230"/>
<rect x="311.82" y="472.85" width="1.88" height="20.1" fill="#72c92e"/>
<rect x="311.82" y="492.9" width="1.88" height="20.1" fill="#77d330"/>
<rect x="311.82" y="512.95" width="1.88" height="20.1" fill="#69ba2b"/>
<rect x="313.65" y="412.7" width="1.88" height="20.1" fill="#345d15"/>
<rect x="313.65" y="432.75" width="1.88" height="20.1" fill="#355e15"/>
<rect x="313.65" y="452.8" width="1.88" height="20.1" fill="#70c52d"/>
<rect x="313.65" y="472.85" width="1.88" height="20.1" fill="#70c52d"/>
<rect x="313.65" y="492.9" width="1.88" height="20.1" fill="#7ede33"/>
<rect x="313.65" y="512.95" width="1.88" height="20.1" fill="#6dc12c"/>
<rect x="315.48" y="412.7" width="1.88" height="20.1" fill="#132207"/>
<rect x="315.48" y="432.75" width="1.88" height="20.1" fill="#101d06"/>
<rect x="315.48" y="452.8" width="1.88" height="20.1" fill="#78d431"/>
<rect x="315.48" y="472.85" width="1.88" height="20.1" fill="#81e434"/>
<rect x="315.48" y="492.9" width="1.88" height="20.1" fill="#79d531"/>
<rect x="315.48" y="512.95" width="1.88" height="20.1" fill="#75ce2f"/>
<rect x="317.3" y="412.7" width="1.88" height="20.1" fill="#101d06"/>
<rect x="317.3" y="432.75" width="1.88" height="20.1" fill="#121f07"/>
<rect x="317.3" y="452.8" width="1.88" height="20.1" fill="#6fc42d"/>
<rect x="317.3" y="472.85" width="1.88" height="20.1" fill="#75cf2f"/>
<rect x="317.3" y="492.9" width="1.88" height="20.1" fill="#7cdb32"/>
<rect x="317.3" y="512.95" width="1.88" height="20.1" fill="#6cbf2c"/>
<rect x="319.12" y="412.7" width="1.88" height="20.1" fill="#0d1805"/>
<rect x="319.12" y="432.75" width="1.88" height="20.1" fill="#0e1905"/>
<rect x="319.12" y="452.8" width="1.88" height="20.1" fill="#66b429"/>
<rect x="319.12" y="472.85" width="1.88" height="20.1" fill="#569823"/>
<rect x="319.12" y="492.9" width="1.88" height="20.1" fill="#5da426"/>
<rect x="319.12" y="512.95" width="1.88" height="20.1" fill="#62ad27"/>
<rect x="320.95" y="412.7" width="1.88" height="20.1" fill="#0f1b06"/>
<rect x="320.95" y="432.75" width="1.88" height="20.1" fill="#0e1905"/>
<rect x="320.95" y="452.8" width="1.88" height="20.1" fill="#61ab27"/>
<rect x="320.95" y="472.85" width="1.88" height="20.1" fill="#61ac27"/>
<rect x="320.95" y="492.9" width="1.88" height="20.1" fill="#60aa27"/>
<rect x="320.95" y="512.95" width="1.88" height="20.1" fill="#6bbd2b"/>
<rect x="322.77" y="412.7" width="1.88" height="20.1" fill="#335a14"/>
<rect x="322.77" y="432.75" width="1.88" height="20.1" fill="#2f5313"/>
<rect x="322.77" y="452.8" width="1.88" height="20.1" fill="#64b028"/>
<rect x="322.77" y="472.85" width="1.88" height="20.1" fill="#64b128"/>
<rect x="322.77" y="492.9" width="1.88" height="20.1" fill="#72c92e"/>
<rect x="322.77" y="512.95" width="1.88" height="20.1" fill="#75ce2f"/>
<rect x="324.6" y="412.7" width="1.88" height="20.1" fill="#152608"/>
<rect x="324.6" y="432.75" width="1.88" height="20.1" fill="#152508"/>
<rect x="324.6" y="452.8" width="1.88" height="20.1" fill="#81e434"/>
<rect x="324.6" y="472.85" width="1.88" height="20.1" fill="#7bd932"/>
<rect x="324.6" y="492.9" width="1.88" height="20.1" fill="#81e434"/>
<rect x="324.6" y="512.95" width="1.88" height="20.1" fill="#78d330"/>
<rect x="326.43" y="412.7" width="1.88" height="20.1" fill="#132308"/>
<rect x="326.43" y="432.75" width="1.88" height="20.1" fill="#132207"/>
<rect x="326.43" y="452.8" width="1.88" height="20.1" fill="#6abc2b"/>
<rect x="326.43" y="472.85" width="1.88" height="20.1" fill="#5ea626"/>
<rect x="326.43" y="492.9" width="1.88" height="20.1" fill="#6dc02c"/>
<rect x="326.43" y="512.95" width="1.88" height="20.1" fill="#70c52d"/>
<rect x="328.25" y="412.7" width="1.88" height="20.1" fill="#2b4c11"/>
<rect x="328.25" y="432.75" width="1.88" height="20.1" fill="#2e5112"/>
<rect x="328.25" y="452.8" width="1.88" height="20.1" fill="#5aa024"/>
<rect x="328.25" y="472.85" width="1.88" height="20.1" fill="#579923"/>
<rect x="328.25" y="492.9" width="1.88" height="20.1" fill="#569823"/>
<rect x="328.25" y="512.95" width="1.88" height="20.1" fill="#5ca325"/>
<rect x="330.07" y="412.7" width="1.88" height="20.1" fill="#579a23"/>
<rect x="330.07" y="432.75" width="1.88" height="20.1" fill="#569823"/>
<rect x="330.07" y="452.8" width="1.88" height="20.1" fill="#599d24"/>
<rect x="330.07" y="472.85" width="1.88" height="20.1" fill="#5ba125"/>
<rect x="330.07" y="492.9" width="1.88" height="20.1" fill="#579a23"/>
<rect x="330.07" y="512.95" width="1.88" height="20.1" fill="#539422"/>
<rect x="331.9" y="412.7" width="1.88" height="20.1" fill="#68b92a"/>
<rect x="331.9" y="432.75" width="1.88" height="20.1" fill="#73ca2e"/>
<rect x="331.9" y="452.8" width="1.88" height="20.1" fill="#75ce2f"/>
<rect x="331.9" y="472.85" width="1.88" height="20.1" fill="#69b92a"/>
<rect x="331.9" y="492.9" width="1.88" height="20.1" fill="#77d230"/>
<rect x="331.9" y="512.95" width="1.88" height="20.1" fill="#73cc2f"/>
<rect x="333.73" y="412.7" width="1.88" height="20.1" fill="#77d230"/>
<rect x="333.73" y="432.75" width="1.88" height="20.1" fill="#6dc12c"/>
<rect x="333.73" y="452.8" width="1.88" height="20.1" fill="#7fe033"/>
<rect x="333.73" y="472.85" width="1.88" height="20.1" fill="#7edf33"/>
<rect x="333.73" y="492.9" width="1.88" height="20.1" fill="#7ad831"/>
<rect x="333.73" y="512.95" width="1.88" height="20.1" fill="#7cdb32"/>
<rect x="335.55" y="412.7" width="1.88" height="20.1" fill="#6dc02c"/>
<rect x="335.55" y="432.75" width="1.88" height="20.1" fill="#74cd2f"/>
<rect x="335.55" y="452.8" width="1.88" height="20.1" fill="#6bbd2b"/>
<rect x="335.55" y="472.85" width="1.88" height="20.1" fill="#71c82e"/>
<rect x="335.55" y="492.9" width="1.88" height="20.1" fill="#74cd2f"/>
<rect x="335.55" y="512.95" width="1.88" height="20.1" fill="#69ba2b"/>
<rect x="337.38" y="412.7" width="1.88" height="20.1" fill="#61ac27"/>
<rect x="337.38" y="432.75" width="1.88" height="20.1" fill="#61ab27"/>
<rect x="337.38" y="452.8" width="1.88" height="20.1" fill="#5ea626"/>
<rect x="337.38" y="472.85" width="1.88" height="20.1" fill="#6cc02c"/>
<rect x="337.38" y="492.9" width="1.88" height="20.1" fill="#67b62a"/>
<rect x="337.38" y="512.95" width="1.88" height="20.1" fill="#60aa27"/>
<rect x="339.2" y="412.7" width="1.88" height="20.1" fill="#6cbf2c"/>
<rect x="339.2" y="432.75" width="1.88" height="20.1" fill="#6cbe2b"/>
<rect x="339.2" y="452.8" width="1.88" height="20.1" fill="#6ec22c"/>
<rect x="339.2" y="472.85" width="1.88" height="20.1" fill="#7cdb32"/>
<rect x="339.2" y="492.9" width="1.88" height="20.1" fill="#74cc2f"/>
<rect x="339.2" y="512.95" width="1.88" height="20.1" fill="#75cf2f"/>
<rect x="341.02" y="412.7" width="1.88" height="20.1" fill="#7ad731"/>
<rect x="341.02" y="432.75" width="1.88" height="20.1" fill="#64b129"/>
<rect x="341.02" y="452.8" width="1.88" height="20.1" fill="#78d330"/>
<rect x="341.02" y="472.85" width="1.88" height="20.1" fill="#7ad832"/>
<rect x="341.02" y="492.9" width="1.88" height="20.1" fill="#6fc42d"/>
<rect x="341.02" y="512.95" width="1.88" height="20.1" fill="#73ca2e"/>
<rect x="342.85" y="412.7" width="1.88" height="20.1" fill="#4d881f"/>
<rect x="342.85" y="432.75" width="1.88" height="20.1" fill="#508e20"/>
<rect x="342.85" y="452.8" width="1.88" height="20.1" fill="#508d20"/>
<rect x="342.85" y="472.85" width="1.88" height="20.1" fill="#529121"/>
<rect x="342.85" y="492.9" width="1.88" height="20.1" fill="#5ea526"/>
<rect x="342.85" y="512.95" width="1.88" height="20.1" fill="#579b23"/>
<rect x="344.68" y="412.7" width="1.88" height="20.1" fill="#6ec32d"/>
<rect x="344.68" y="432.75" width="1.88" height="20.1" fill="#66b429"/>
<rect x="344.68" y="452.8" width="1.88" height="20.1" fill="#75ce2f"/>
<rect x="344.68" y="472.85" width="1.88" height="20.1" fill="#6dc02c"/>
<rect x="344.68" y="492.9" width="1.88" height="20.1" fill="#71c72e"/>
<rect x="344.68" y="512.95" width="1.88" height="20.1" fill="#61ab27"/>
<rect x="346.5" y="412.7" width="1.88" height="20.1" fill="#6ec22c"/>
<rect x="346.5" y="432.75" width="1.88" height="20.1" fill="#5fa726"/>
<rect x="346.5" y="452.8" width="1.88" height="20.1" fill="#77d330"/>
<rect x="346.5" y="472.85" width="1.88" height="20.1" fill="#66b529"/>
<rect x="346.5" y="492.9" width="1.88" height="20.1" fill="#6dc12c"/>
<rect x="346.5" y="512.95" width="1.88" height="20.1" fill="#67b529"/>
<rect x="348.33" y="412.7" width="1.88" height="20.1" fill="#66b529"/>
<rect x="348.33" y="432.75" width="1.88" height="20.1" fill="#5ba125"/>
<rect x="348.33" y="452.8" width="1.88" height="20.1" fill="#73cb2e"/>
<rect x="348.33" y="472.85" width="1.88" height="20.1" fill="#68b72a"/>
<rect x="348.33" y="492.9" width="1.88" height="20.1" fill="#6abb2b"/>
<rect x="348.33" y="512.95" width="1.88" height="20.1" fill="#6cbe2b"/>
<rect x="350.15" y="412.7" width="1.88" height="20.1" fill="#5ba125"/>
<rect x="350.15" y="432.75" width="1.88" height="20.1" fill="#62ad28"/>
<rect x="350.15" y="452.8" width="1.88" height="20.1" fill="#65b329"/>
<rect x="350.15" y="472.85" width="1.88" height="20.1" fill="#60a927"/>
<rect x="350.15" y="492.9" width="1.88" height="20.1" fill="#68b82a"/>
<rect x="350.15" y="512.95" width="1.88" height="20.1" fill="#60a927"/>
<rect x="351.98" y="412.7" width="1.88" height="20.1" fill="#4d871f"/>
<rect x="351.98" y="432.75" width="1.88" height="20.1" fill="#49821e"/>
<rect x="351.98" y="452.8" width="1.88" height="20.1" fill="#4f8c20"/>
<rect x="351.98" y="472.85" width="1.88" height="20.1" fill="#599e24"/>
<rect x="351.98" y="492.9" width="1.88" height="20.1" fill="#539322"/>
<rect x="351.98" y="512.95" width="1.88" height="20.1" fill="#5ca225"/>
<rect x="353.8" y="412.7" width="1.88" height="20.1" fill="#64b129"/>
<rect x="353.8" y="432.75" width="1.88" height="20.1" fill="#79d631"/>
<rect x="353.8" y="452.8" width="1.88" height="20.1" fill="#7fe033"/>
<rect x="353.8" y="472.85" width="1.88" height="20.1" fill="#6abc2b"/>
<rect x="353.8" y="492.9" width="1.88" height="20.1" fill="#7ede33"/>
<rect x="353.8" y="512.95" width="1.88" height="20.1" fill="#73ca2e"/>
<rect x="355.62" y="412.7" width="1.88" height="20.1" fill="#6dc02c"/>
<rect x="355.62" y="432.75" width="1.88" height="20.1" fill="#5ea726"/>
<rect x="355.62" y="452.8" width="1.88" height="20.1" fill="#69ba2b"/>
<rect x="355.62" y="472.85" width="1.88" height="20.1" fill="#72c92e"/>
<rect x="355.62" y="492.9" width="1.88" height="20.1" fill="#6dc12c"/>
<rect x="355.62" y="512.95" width="1.88" height="20.1" fill="#68b82a"/>
<rect x="357.45" y="412.7" width="1.88" height="20.1" fill="#7fe133"/>
<rect x="357.45" y="432.75" width="1.88" height="20.1" fill="#7ad831"/>
<rect x="357.45" y="452.8" width="1.88" height="20.1" fill="#74cd2f"/>
<rect x="357.45" y="472.85" width="1.88" height="20.1" fill="#81e434"/>
<rect x="357.45" y="492.9" width="1.88" height="20.1" fill="#7ddd33"/>
<rect x="357.45" y="512.95" width="1.88" height="20.1" fill="#77d130"/>
<rect x="359.27" y="412.7" width="1.88" height="20.1" fill="#539221"/>
<rect x="359.27" y="432.75" width="1.88" height="20.1" fill="#4c871f"/>
<rect x="359.27" y="452.8" width="1.88" height="20.1" fill="#569723"/>
<rect x="359.27" y="472.85" width="1.88" height="20.1" fill="#5a9e24"/>
<rect x="359.27" y="492.9" width="1.88" height="20.1" fill="#569823"/>
<rect x="359.27" y="512.95" width="1.88" height="20.1" fill="#539221"/>
<rect x="361.1" y="412.7" width="1.88" height="20.1" fill="#66b429"/>
<rect x="361.1" y="432.75" width="1.88" height="20.1" fill="#6ec12c"/>
<rect x="361.1" y="452.8" width="1.88" height="20.1" fill="#6ec22c"/>
<rect x="361.1" y="472.85" width="1.88" height="20.1" fill="#78d431"/>
<rect x="361.1" y="492.9" width="1.88" height="20.1" fill="#77d230"/>
<rect x="361.1" y="512.95" width="1.88" height="20.1" fill="#72ca2e"/>
<rect x="362.93" y="412.7" width="1.88" height="20.1" fill="#539221"/>
<rect x="362.93" y="432.75" width="1.88" height="20.1" fill="#61ab27"/>
<rect x="362.93" y="452.8" width="1.88" height="20.1" fill="#64b128"/>
<rect x="362.93" y="472.85" width="1.88" height="20.1" fill="#61ab27"/>
<rect x="362.93" y="492.9" width="1.88" height="20.1" fill="#5ca225"/>
<rect x="362.93" y="512.95" width="1.88" height="20.1" fill="#5a9f24"/>
<rect x="364.75" y="412.7" width="1.88" height="20.1" fill="#6dc12c"/>
<rect x="364.75" y="432.75" width="1.88" height="20.1" fill="#6ec22c"/>
<rect x="364.75" y="452.8" width="1.88" height="20.1" fill="#75ce2f"/>
<rect x="364.75" y="472.85" width="1.88" height="20.1" fill="#77d330"/>
<rect x="364.75" y="492.9" width="1.88" height="20.1" fill="#6abc2b"/>
<rect x="364.75" y="512.95" width="1.88" height="20.1" fill="#6cbe2c"/>
<rect x="366.58" y="412.7" width="1.88" height="20.1" fill="#81e434"/>
<rect x="366.58" y="432.75" width="1.88" height="20.1" fill="#81e434"/>
<rect x="366.58" y="452.8" width="1.88" height="20.1" fill="#72ca2e"/>
<rect x="366.58" y="472.85" width="1.88" height="20.1" fill="#73cb2e"/>
<rect x="366.58" y="492.9" width="1.88" height="20.1" fill="#78d431"/>
<rect x="366.58" y="512.95" width="1.88" height="20.1" fill="#7cdb32"/>
<rect x="368.4" y="412.7" width="1.88" height="20.1" fill="#61ab27"/>
<rect x="368.4" y="432.75" width="1.88" height="20.1" fill="#6abc2b"/>
<rect x="368.4" y="452.8" width="1.88" height="20.1" fill="#65b329"/>
<rect x="368.4" y="472.85" width="1.88" height="20.1" fill="#66b429"/>
<rect x="368.4" y="492.9" width="1.88" height="20.1" fill="#73cb2e"/>
<rect x="368.4" y="512.95" width="1.88" height="20.1" fill="#70c62d"/>
<rect x="370.23" y="412.7" width="1.88" height="20.1" fill="#67b62a"/>
<rect x="370.23" y="432.75" width="1.88" height="20.1" fill="#69ba2b"/>
<rect x="370.23" y="452.8" width="1.88" height="20.1" fill="#69b92a"/>
<rect x="370.23" y="472.85" width="1.88" height="20.1" fill="#6cbe2c"/>
<rect x="370.23" y="492.9" width="1.88" height="20.1" fill="#75ce2f"/>
<rect x="370.23" y="512.95" width="1.88" height="20.1" fill="#77d230"/>
<rect x="372.05" y="412.7" width="1.88" height="20.1" fill="#4d881f"/>
<rect x="372.05" y="432.75" width="1.88" height="20.1" fill="#589c24"/>
<rect x="372.05" y="452.8" width="1.88" height="20.1" fill="#5a9f24"/>
<rect x="372.05" y="472.85" width="1.88" height="20.1" fill="#5ca325"/>
<rect x="372.05" y="492.9" width="1.88" height="20.1" fill="#539221"/>
<rect x="372.05" y="512.95" width="1.88" height="20.1" fill="#569823"/>
<rect x="373.88" y="412.7" width="1.88" height="20.1" fill="#60aa27"/>
<rect x="373.88" y="432.75" width="1.88" height="20.1" fill="#589c24"/>
<rect x="373.88" y="452.8" width="1.88" height="20.1" fill="#62ae28"/>
<rect x="373.88" y="472.85" width="1.88" height="20.1" fill="#69b92a"/>
<rect x="373.88" y="492.9" width="1.88" height="20.1" fill="#5ca325"/>
<rect x="373.88" y="512.95" width="1.88" height="20.1" fill="#60aa27"/>
<rect x="375.7" y="412.7" width="1.88" height="20.1" fill="#78d330"/>
<rect x="375.7" y="432.75" width="1.88" height="20.1" fill="#6dc02c"/>
<rect x="375.7" y="452.8" width="1.88" height="20.1" fill="#71c82e"/>
<rect x="375.7" y="472.85" width="1.88" height="20.1" fill="#6bbd2b"/>
<rect x="375.7" y="492.9" width="1.88" height="20.1" fill="#7ddd33"/>
<rect x="375.7" y="512.95" width="1.88" height="20.1" fill="#6abc2b"/>
<rect x="377.52" y="412.7" width="1.88" height="20.1" fill="#559622"/>
<rect x="377.52" y="432.75" width="1.88" height="20.1" fill="#539322"/>
<rect x="377.52" y="452.8" width="1.88" height="20.1" fill="#5ba125"/>
<rect x="377.52" y="472.85" width="1.88" height="20.1" fill="#549522"/>
<rect x="377.52" y="492.9" width="1.88" height="20.1" fill="#5da425"/>
<rect x="377.52" y="512.95" width="1.88" height="20.1" fill="#508e20"/>
<rect x="379.35" y="412.7" width="1.88" height="20.1" fill="#5ca225"/>
<rect x="379.35" y="432.75" width="1.88" height="20.1" fill="#519021"/>
<rect x="379.35" y="452.8" width="1.88" height="20.1" fill="#5a9f24"/>
<rect x="379.35" y="472.85" width="1.88" height="20.1" fill="#62ad27"/>
<rect x="379.35" y="492.9" width="1.88" height="20.1" fill="#61ac27"/>
<rect x="379.35" y="512.95" width="1.88" height="20.1" fill="#599e24"/>
<rect x="381.18" y="412.7" width="1.88" height="20.1" fill="#549422"/>
<rect x="381.18" y="432.75" width="1.88" height="20.1" fill="#5a9f24"/>
<rect x="381.18" y="452.8" width="1.88" height="20.1" fill="#589c24"/>
<rect x="381.18" y="472.85" width="1.88" height="20.1" fill="#549422"/>
<rect x="381.18" y="492.9" width="1.88" height="20.1" fill="#5ea726"/>
<rect x="381.18" y="512.95" width="1.88" height="20.1" fill="#5ca225"/>
<rect x="383" y="412.7" width="1.88" height="20.1" fill="#80e134"/>
<rect x="383" y="432.75" width="1.88" height="20.1" fill="#7fe033"/>
<rect x="383" y="452.8" width="1.88" height="20.1" fill="#7ad731"/>
<rect x="383" y="472.85" width="1.88" height="20.1" fill="#81e434"/>
<rect x="383" y="492.9" width="1.88" height="20.1" fill="#77d230"/>
<rect x="383" y="512.95" width="1.88" height="20.1" fill="#77d230"/>
<rect x="384.83" y="412.7" width="1.88" height="20.1" fill="#69b92a"/>
<rect x="384.83" y="432.75" width="1.88" height="20.1" fill="#68b82a"/>
<rect x="384.83" y="452.8" width="1.88" height="20.1" fill="#60aa27"/>
<rect x="384.83" y="472.85" width="1.88" height="20.1" fill="#63ae28"/>
<rect x="384.83" y="492.9" width="1.88" height="20.1" fill="#63ae28"/>
<rect x="384.83" y="512.95" width="1.88" height="20.1" fill="#63ae28"/>
<rect x="386.65" y="412.7" width="1.88" height="20.1" fill="#233e0e"/>
<rect x="386.65" y="432.75" width="1.88" height="20.1" fill="#233e0e"/>
<rect x="386.65" y="452.8" width="1.88" height="20.1" fill="#233e0e"/>
<rect x="386.65" y="472.85" width="1.88" height="20.1" fill="#233e0e"/>
<rect x="386.65" y="492.9" width="1.88" height="20.1" fill="#233e0e"/>
<rect x="386.65" y="512.95" width="1.88" height="20.1" fill="#233e0e"/>
<rect x="388.48" y="412.7" width="1.88" height="20.1" fill="#233e0e"/>
<rect x="388.48" y="432.75" width="1.88" height="20.1" fill="#233e0e"/>
<rect x="388.48" y="452.8" width="1.88" height="20.1" fill="#233e0e"/>
<rect x="388.48" y="472.85" width="1.88" height="20.1" fill="#233e0e"/>
<rect x="388.48" y="492.9" width="1.88" height="20.1" fill="#233e0e"/>
<rect x="388.48" y="512.95" width="1.88" height="20.1" fill="#233e0e"/>
</g>
<line x1="212.5" y1="412.7" x2="212.5" y2="533" stroke="#e8a890" stroke-width="0.6"/>
<line x1="278.5" y1="373.5" x2="390.3" y2="373.5" stroke="#9a9ad8" stroke-width="0.9"/>
<line x1="278.5" y1="373.5" x2="278.5" y2="398.8" stroke="#8c8cd8" stroke-width="0.8"/>
<line x1="390.3" y1="373.5" x2="390.3" y2="399.6" stroke="#8c8cd8" stroke-width="0.8"/>
<line x1="268" y1="398.8" x2="283.5" y2="398.8" stroke="#8c8cd8" stroke-width="0.8"/>
<line x1="268" y1="398.8" x2="268" y2="404" stroke="#8c8cd8" stroke-width="0.7"/>
<line x1="283.5" y1="398.8" x2="283.5" y2="406" stroke="#8c8cd8" stroke-width="0.7"/>
<line x1="241.5" y1="404" x2="277.3" y2="404" stroke="#8c8cd8" stroke-width="0.7"/>
<line x1="241.5" y1="404" x2="241.5" y2="408" stroke="#8c8cd8" stroke-width="0.7"/>
<line x1="277.3" y1="404" x2="277.3" y2="408.5" stroke="#8c8cd8" stroke-width="0.7"/>
<line x1="345" y1="405.4" x2="390.3" y2="405.4" stroke="#8c8cd8" stroke-width="0.7"/>
<line x1="370" y1="401.9" x2="390.3" y2="401.9" stroke="#8c8cd8" stroke-width="0.7"/>
<line x1="345" y1="405.4" x2="345" y2="409" stroke="#8c8cd8" stroke-width="0.7"/>
<line x1="225" y1="408" x2="260" y2="408" stroke="#8c8cd8" stroke-width="0.6"/>
<line x1="300" y1="408.5" x2="340" y2="408.5" stroke="#8c8cd8" stroke-width="0.6"/>
<line x1="355" y1="407.5" x2="385" y2="407.5" stroke="#8c8cd8" stroke-width="0.6"/>
<rect x="207.8" y="408" width="182.5" height="4.7" fill="#9a9ad8"/>
<rect x="207.8" y="410.3" width="182.5" height="2.4" fill="#5a5ab8"/>
<line x1="210.69" y1="410.1" x2="215.12" y2="410.1" stroke="#5858b8" stroke-width="0.6"/>
<line x1="210.69" y1="410.1" x2="210.69" y2="410.59" stroke="#5858b8" stroke-width="0.6"/>
<line x1="215.12" y1="410.1" x2="215.12" y2="410.51" stroke="#5858b8" stroke-width="0.6"/>
<line x1="212.9" y1="409.82" x2="220.8" y2="409.82" stroke="#5858b8" stroke-width="0.6"/>
<line x1="212.9" y1="409.82" x2="212.9" y2="410.1" stroke="#5858b8" stroke-width="0.6"/>
<line x1="220.8" y1="409.82" x2="220.8" y2="410.55" stroke="#5858b8" stroke-width="0.6"/>
<line x1="225.78" y1="410.42" x2="227.29" y2="410.42" stroke="#5858b8" stroke-width="0.6"/>
<line x1="225.78" y1="410.42" x2="225.78" y2="410.86" stroke="#5858b8" stroke-width="0.6"/>
<line x1="227.29" y1="410.42" x2="227.29" y2="411.02" stroke="#5858b8" stroke-width="0.6"/>
<line x1="229.35" y1="410.29" x2="232.15" y2="410.29" stroke="#5858b8" stroke-width="0.6"/>
<line x1="229.35" y1="410.29" x2="229.35" y2="410.78" stroke="#5858b8" stroke-width="0.6"/>
<line x1="232.15" y1="410.29" x2="232.15" y2="411.06" stroke="#5858b8" stroke-width="0.6"/>
<line x1="226.54" y1="409.97" x2="230.75" y2="409.97" stroke="#5858b8" stroke-width="0.6"/>
<line x1="226.54" y1="409.97" x2="226.54" y2="410.42" stroke="#5858b8" stroke-width="0.6"/>
<line x1="230.75" y1="409.97" x2="230.75" y2="410.29" stroke="#5858b8" stroke-width="0.6"/>
<line x1="216.85" y1="409.27" x2="228.65" y2="409.27" stroke="#5858b8" stroke-width="0.6"/>
<line x1="216.85" y1="409.27" x2="216.85" y2="409.82" stroke="#5858b8" stroke-width="0.6"/>
<line x1="228.65" y1="409.27" x2="228.65" y2="409.97" stroke="#5858b8" stroke-width="0.6"/>
<line x1="237.47" y1="410.36" x2="243.74" y2="410.36" stroke="#5858b8" stroke-width="0.6"/>
<line x1="237.47" y1="410.36" x2="237.47" y2="410.68" stroke="#5858b8" stroke-width="0.6"/>
<line x1="243.74" y1="410.36" x2="243.74" y2="410.57" stroke="#5858b8" stroke-width="0.6"/>
<line x1="222.75" y1="408.63" x2="240.61" y2="408.63" stroke="#5858b8" stroke-width="0.6"/>
<line x1="222.75" y1="408.63" x2="222.75" y2="409.27" stroke="#5858b8" stroke-width="0.6"/>
<line x1="240.61" y1="408.63" x2="240.61" y2="410.36" stroke="#5858b8" stroke-width="0.6"/>
<line x1="251.72" y1="410.4" x2="254.58" y2="410.4" stroke="#5858b8" stroke-width="0.6"/>
<line x1="251.72" y1="410.4" x2="251.72" y2="410.7" stroke="#5858b8" stroke-width="0.6"/>
<line x1="254.58" y1="410.4" x2="254.58" y2="410.74" stroke="#5858b8" stroke-width="0.6"/>
<line x1="248.1" y1="409.89" x2="253.15" y2="409.89" stroke="#5858b8" stroke-width="0.6"/>
<line x1="248.1" y1="409.89" x2="248.1" y2="410.56" stroke="#5858b8" stroke-width="0.6"/>
<line x1="253.15" y1="409.89" x2="253.15" y2="410.4" stroke="#5858b8" stroke-width="0.6"/>
<line x1="257.3" y1="410.35" x2="260.64" y2="410.35" stroke="#5858b8" stroke-width="0.6"/>
<line x1="257.3" y1="410.35" x2="257.3" y2="411.1" stroke="#5858b8" stroke-width="0.6"/>
<line x1="260.64" y1="410.35" x2="260.64" y2="410.87" stroke="#5858b8" stroke-width="0.6"/>
<line x1="258.97" y1="410.18" x2="265.67" y2="410.18" stroke="#5858b8" stroke-width="0.6"/>
<line x1="258.97" y1="410.18" x2="258.97" y2="410.35" stroke="#5858b8" stroke-width="0.6"/>
<line x1="265.67" y1="410.18" x2="265.67" y2="410.7" stroke="#5858b8" stroke-width="0.6"/>
<line x1="270.47" y1="410.44" x2="274.66" y2="410.44" stroke="#5858b8" stroke-width="0.6"/>
<line x1="270.47" y1="410.44" x2="270.47" y2="410.96" stroke="#5858b8" stroke-width="0.6"/>
<line x1="274.66" y1="410.44" x2="274.66" y2="410.77" stroke="#5858b8" stroke-width="0.6"/>
<line x1="262.32" y1="409.66" x2="272.56" y2="409.66" stroke="#5858b8" stroke-width="0.6"/>
<line x1="262.32" y1="409.66" x2="262.32" y2="410.18" stroke="#5858b8" stroke-width="0.6"/>
<line x1="272.56" y1="409.66" x2="272.56" y2="410.44" stroke="#5858b8" stroke-width="0.6"/>
<line x1="250.62" y1="409.03" x2="267.44" y2="409.03" stroke="#5858b8" stroke-width="0.6"/>
<line x1="250.62" y1="409.03" x2="250.62" y2="409.89" stroke="#5858b8" stroke-width="0.6"/>
<line x1="267.44" y1="409.03" x2="267.44" y2="409.66" stroke="#5858b8" stroke-width="0.6"/>
<line x1="231.68" y1="404.5" x2="259.03" y2="404.5" stroke="#5858b8" stroke-width="0.6"/>
<line x1="231.68" y1="404.5" x2="231.68" y2="408.63" stroke="#5858b8" stroke-width="0.6"/>
<line x1="259.03" y1="404.5" x2="259.03" y2="409.03" stroke="#5858b8" stroke-width="0.6"/>
<line x1="295.39" y1="410.32" x2="300" y2="410.32" stroke="#5858b8" stroke-width="0.6"/>
<line x1="295.39" y1="410.32" x2="295.39" y2="410.75" stroke="#5858b8" stroke-width="0.6"/>
<line x1="300" y1="410.32" x2="300" y2="410.7" stroke="#5858b8" stroke-width="0.6"/>
<line x1="289.59" y1="410.09" x2="297.69" y2="410.09" stroke="#5858b8" stroke-width="0.6"/>
<line x1="289.59" y1="410.09" x2="289.59" y2="411.01" stroke="#5858b8" stroke-width="0.6"/>
<line x1="297.69" y1="410.09" x2="297.69" y2="410.32" stroke="#5858b8" stroke-width="0.6"/>
<line x1="302.73" y1="410.45" x2="306.96" y2="410.45" stroke="#5858b8" stroke-width="0.6"/>
<line x1="302.73" y1="410.45" x2="302.73" y2="410.98" stroke="#5858b8" stroke-width="0.6"/>
<line x1="306.96" y1="410.45" x2="306.96" y2="410.79" stroke="#5858b8" stroke-width="0.6"/>
<line x1="311.54" y1="410.43" x2="314.02" y2="410.43" stroke="#5858b8" stroke-width="0.6"/>
<line x1="311.54" y1="410.43" x2="311.54" y2="411.01" stroke="#5858b8" stroke-width="0.6"/>
<line x1="314.02" y1="410.43" x2="314.02" y2="410.69" stroke="#5858b8" stroke-width="0.6"/>
<line x1="304.84" y1="409.9" x2="312.78" y2="409.9" stroke="#5858b8" stroke-width="0.6"/>
<line x1="304.84" y1="409.9" x2="304.84" y2="410.45" stroke="#5858b8" stroke-width="0.6"/>
<line x1="312.78" y1="409.9" x2="312.78" y2="410.43" stroke="#5858b8" stroke-width="0.6"/>
<line x1="293.64" y1="409.57" x2="308.81" y2="409.57" stroke="#5858b8" stroke-width="0.6"/>
<line x1="293.64" y1="409.57" x2="293.64" y2="410.09" stroke="#5858b8" stroke-width="0.6"/>
<line x1="308.81" y1="409.57" x2="308.81" y2="409.9" stroke="#5858b8" stroke-width="0.6"/>
<line x1="318.95" y1="410.02" x2="325.42" y2="410.02" stroke="#5858b8" stroke-width="0.6"/>
<line x1="318.95" y1="410.02" x2="318.95" y2="410.79" stroke="#5858b8" stroke-width="0.6"/>
<line x1="325.42" y1="410.02" x2="325.42" y2="410.7" stroke="#5858b8" stroke-width="0.6"/>
<line x1="333.39" y1="410.35" x2="344.9" y2="410.35" stroke="#5858b8" stroke-width="0.6"/>
<line x1="333.39" y1="410.35" x2="333.39" y2="410.68" stroke="#5858b8" stroke-width="0.6"/>
<line x1="344.9" y1="410.35" x2="344.9" y2="410.62" stroke="#5858b8" stroke-width="0.6"/>
<line x1="322.19" y1="409.01" x2="339.15" y2="409.01" stroke="#5858b8" stroke-width="0.6"/>
<line x1="322.19" y1="409.01" x2="322.19" y2="410.02" stroke="#5858b8" stroke-width="0.6"/>
<line x1="339.15" y1="409.01" x2="339.15" y2="410.35" stroke="#5858b8" stroke-width="0.6"/>
<line x1="301.23" y1="406.89" x2="330.67" y2="406.89" stroke="#5858b8" stroke-width="0.6"/>
<line x1="301.23" y1="406.89" x2="301.23" y2="409.57" stroke="#5858b8" stroke-width="0.6"/>
<line x1="330.67" y1="406.89" x2="330.67" y2="409.01" stroke="#5858b8" stroke-width="0.6"/>
<line x1="353.56" y1="410.44" x2="358.14" y2="410.44" stroke="#5858b8" stroke-width="0.6"/>
<line x1="353.56" y1="410.44" x2="353.56" y2="411.03" stroke="#5858b8" stroke-width="0.6"/>
<line x1="358.14" y1="410.44" x2="358.14" y2="411.02" stroke="#5858b8" stroke-width="0.6"/>
<line x1="355.85" y1="409.76" x2="368.97" y2="409.76" stroke="#5858b8" stroke-width="0.6"/>
<line x1="355.85" y1="409.76" x2="355.85" y2="410.44" stroke="#5858b8" stroke-width="0.6"/>
<line x1="368.97" y1="409.76" x2="368.97" y2="410.53" stroke="#5858b8" stroke-width="0.6"/>
<line x1="378.51" y1="410.47" x2="380.04" y2="410.47" stroke="#5858b8" stroke-width="0.6"/>
<line x1="378.51" y1="410.47" x2="378.51" y2="410.79" stroke="#5858b8" stroke-width="0.6"/>
<line x1="380.04" y1="410.47" x2="380.04" y2="410.91" stroke="#5858b8" stroke-width="0.6"/>
<line x1="379.28" y1="409.65" x2="382.24" y2="409.65" stroke="#5858b8" stroke-width="0.6"/>
<line x1="379.28" y1="409.65" x2="379.28" y2="410.47" stroke="#5858b8" stroke-width="0.6"/>
<line x1="382.24" y1="409.65" x2="382.24" y2="410.51" stroke="#5858b8" stroke-width="0.6"/>
<line x1="385.45" y1="409.97" x2="388.76" y2="409.97" stroke="#5858b8" stroke-width="0.6"/>
<line x1="385.45" y1="409.97" x2="385.45" y2="410.81" stroke="#5858b8" stroke-width="0.6"/>
<line x1="388.76" y1="409.97" x2="388.76" y2="410.55" stroke="#5858b8" stroke-width="0.6"/>
<line x1="380.76" y1="408.59" x2="387.1" y2="408.59" stroke="#5858b8" stroke-width="0.6"/>
<line x1="380.76" y1="408.59" x2="380.76" y2="409.65" stroke="#5858b8" stroke-width="0.6"/>
<line x1="387.1" y1="408.59" x2="387.1" y2="409.97" stroke="#5858b8" stroke-width="0.6"/>
<line x1="362.41" y1="407.17" x2="383.93" y2="407.17" stroke="#5858b8" stroke-width="0.6"/>
<line x1="362.41" y1="407.17" x2="362.41" y2="409.76" stroke="#5858b8" stroke-width="0.6"/>
<line x1="383.93" y1="407.17" x2="383.93" y2="408.59" stroke="#5858b8" stroke-width="0.6"/>
<line x1="315.95" y1="405" x2="373.17" y2="405" stroke="#5858b8" stroke-width="0.6"/>
<line x1="315.95" y1="405" x2="315.95" y2="406.89" stroke="#5858b8" stroke-width="0.6"/>
<line x1="373.17" y1="405" x2="373.17" y2="407.17" stroke="#5858b8" stroke-width="0.6"/>
<line x1="141.5" y1="424.3" x2="148" y2="424.3" stroke="#3636a0" stroke-width="1.15"/>
<line x1="141.5" y1="442.8" x2="148" y2="442.8" stroke="#3636a0" stroke-width="1.15"/>
<line x1="141.5" y1="424.3" x2="141.5" y2="442.8" stroke="#3636a0" stroke-width="1.15"/>
<line x1="140.4" y1="464.2" x2="145" y2="464.2" stroke="#3636a0" stroke-width="1.15"/>
<line x1="140.4" y1="483.9" x2="145" y2="483.9" stroke="#3636a0" stroke-width="1.15"/>
<line x1="140.4" y1="464.2" x2="140.4" y2="483.9" stroke="#3636a0" stroke-width="1.15"/>
<line x1="134.2" y1="474.05" x2="140.4" y2="474.05" stroke="#3636a0" stroke-width="1.15"/>
<line x1="134.2" y1="504.6" x2="145" y2="504.6" stroke="#3636a0" stroke-width="1.15"/>
<line x1="134.2" y1="474.05" x2="134.2" y2="504.6" stroke="#3636a0" stroke-width="1.15"/>
<line x1="127.2" y1="489.32" x2="134.2" y2="489.32" stroke="#3636a0" stroke-width="1.15"/>
<line x1="127.2" y1="523.8" x2="145" y2="523.8" stroke="#3636a0" stroke-width="1.15"/>
<line x1="127.2" y1="489.32" x2="127.2" y2="523.8" stroke="#3636a0" stroke-width="1.15"/>
<line x1="115" y1="433.55" x2="141.5" y2="433.55" stroke="#3636a0" stroke-width="1.15"/>
<line x1="115" y1="509.5" x2="127.2" y2="509.5" stroke="#3636a0" stroke-width="1.15"/>
<line x1="115" y1="433.55" x2="115" y2="509.5" stroke="#3636a0" stroke-width="1.15"/>
<text x="152.6" y="427.2" font-size="8.2" fill="#2a3278" stroke="#2a3278" stroke-width="0.25" textLength="50.8" lengthAdjust="spacingAndGlyphs">11oc3 <tspan font-style="italic">vs</tspan> 11oc1</text>
<text x="152.6" y="445.7" font-size="8.2" fill="#2a3278" stroke="#2a3278" stroke-width="0.25" textLength="50.8" lengthAdjust="spacingAndGlyphs">11oc2 <tspan font-style="italic">vs</tspan> 11oc1</text>
<text x="152.6" y="467.1" font-size="8.2" fill="#2a3278" stroke="#2a3278" stroke-width="0.25" textLength="50.8" lengthAdjust="spacingAndGlyphs">11oc4 <tspan font-style="italic">vs</tspan> 11oc1</text>
<text x="152.6" y="486.8" font-size="8.2" fill="#2a3278" stroke="#2a3278" stroke-width="0.25" textLength="50.8" lengthAdjust="spacingAndGlyphs">11oc5 <tspan font-style="italic">vs</tspan> 11oc1</text>
<text x="152.6" y="507.5" font-size="8.2" fill="#2a3278" stroke="#2a3278" stroke-width="0.25" textLength="50.8" lengthAdjust="spacingAndGlyphs">11oc7 <tspan font-style="italic">vs</tspan> 11oc1</text>
<text x="152.6" y="526.7" font-size="8.2" fill="#2a3278" stroke="#2a3278" stroke-width="0.25" textLength="50.8" lengthAdjust="spacingAndGlyphs">11oc6 <tspan font-style="italic">vs</tspan> 11oc1</text>
<text x="62.8" y="584" font-size="8.2" fill="#1e1e1e" stroke="#1e1e1e" stroke-width="0.2" transform="rotate(-52 62.8 584)" textLength="37.0" lengthAdjust="spacingAndGlyphs">UT7-11oc1</text>
<text x="89.3" y="584" font-size="8.2" fill="#1e1e1e" stroke="#1e1e1e" stroke-width="0.2" transform="rotate(-52 89.3 584)" textLength="37.0" lengthAdjust="spacingAndGlyphs">UT7-11oc2</text>
<text x="114.3" y="584" font-size="8.2" fill="#1e1e1e" stroke="#1e1e1e" stroke-width="0.2" transform="rotate(-52 114.3 584)" textLength="37.0" lengthAdjust="spacingAndGlyphs">UT7-11oc3</text>
<text x="138.3" y="584" font-size="8.2" fill="#1e1e1e" stroke="#1e1e1e" stroke-width="0.2" transform="rotate(-52 138.3 584)" textLength="37.0" lengthAdjust="spacingAndGlyphs">UT7-11oc4</text>
<text x="162.3" y="584" font-size="8.2" fill="#1e1e1e" stroke="#1e1e1e" stroke-width="0.2" transform="rotate(-52 162.3 584)" textLength="37.0" lengthAdjust="spacingAndGlyphs">UT7-11oc5</text>
<text x="185.8" y="584" font-size="8.2" fill="#1e1e1e" stroke="#1e1e1e" stroke-width="0.2" transform="rotate(-52 185.8 584)" textLength="37.0" lengthAdjust="spacingAndGlyphs">UT7-11oc6</text>
<text x="209.3" y="584" font-size="8.2" fill="#1e1e1e" stroke="#1e1e1e" stroke-width="0.2" transform="rotate(-52 209.3 584)" textLength="37.0" lengthAdjust="spacingAndGlyphs">UT7-11oc7</text>
<rect x="41" y="586.3" width="181.3" height="27.2" fill="#f2f2f2" stroke="#404040" stroke-width="1.1"/>
<text x="245.8" y="606.21" font-size="7.8" fill="#1e1e1e" stroke="#1e1e1e" text-anchor="middle">MPL</text>
<rect x="41" y="618.3" width="181.3" height="19.7" fill="#f2f2f2" stroke="#404040" stroke-width="1.1"/>
<text x="245.8" y="629.41" font-size="7.8" fill="#1e1e1e" stroke="#1e1e1e" text-anchor="middle">Actin</text>
<rect x="41" y="642.5" width="181.3" height="19.3" fill="#f2f2f2" stroke="#404040" stroke-width="1.1"/>
<text x="245.8" y="655.51" font-size="7.8" fill="#1e1e1e" stroke="#1e1e1e" text-anchor="middle">JAK2</text>
<rect x="41" y="665.8" width="181.3" height="19.2" fill="#f2f2f2" stroke="#404040" stroke-width="1.1"/>
<text x="245.8" y="678.41" font-size="7.8" fill="#1e1e1e" stroke="#1e1e1e" text-anchor="middle">Actin</text>
<rect x="48" y="596.4" width="23" height="5.6" rx="0.8" fill="#8c8c8c" filter="url(#bl)"/>
<rect x="47.5" y="602.5" width="24" height="4.6" rx="1.5" fill="#3c3c3c" filter="url(#bl)"/>
<rect x="76.5" y="597.7" width="19" height="4.2" rx="1" fill="#b2b2b2" filter="url(#bl2)"/>
<rect x="75.5" y="602.7" width="21" height="4.2" rx="1.5" fill="#555555" filter="url(#bl)"/>
<rect x="101.75" y="597.7" width="18.5" height="4.2" rx="1" fill="#b2b2b2" filter="url(#bl2)"/>
<rect x="100.75" y="602.7" width="20.5" height="4.2" rx="1.5" fill="#555555" filter="url(#bl)"/>
<rect x="126.5" y="597.7" width="17" height="4.2" rx="1" fill="#b2b2b2" filter="url(#bl2)"/>
<rect x="125.5" y="602.7" width="19" height="4.2" rx="1.5" fill="#555555" filter="url(#bl)"/>
<rect x="150" y="597.7" width="18" height="4.2" rx="1" fill="#b2b2b2" filter="url(#bl2)"/>
<rect x="149" y="602.7" width="20" height="4.2" rx="1.5" fill="#555555" filter="url(#bl)"/>
<rect x="173.5" y="597.7" width="18" height="4.2" rx="1" fill="#b2b2b2" filter="url(#bl2)"/>
<rect x="172.5" y="602.7" width="20" height="4.2" rx="1.5" fill="#555555" filter="url(#bl)"/>
<rect x="197" y="597.7" width="18" height="4.2" rx="1" fill="#b2b2b2" filter="url(#bl2)"/>
<rect x="196" y="602.7" width="20" height="4.2" rx="1.5" fill="#555555" filter="url(#bl)"/>
<rect x="47" y="627.6" width="25" height="3.4" rx="1.7" fill="#232323" filter="url(#bl)"/>
<rect x="75" y="627.6" width="22" height="3.4" rx="1.7" fill="#232323" filter="url(#bl)"/>
<rect x="100.25" y="627.6" width="21.5" height="3.4" rx="1.7" fill="#232323" filter="url(#bl)"/>
<rect x="125" y="627.6" width="20" height="3.4" rx="1.7" fill="#232323" filter="url(#bl)"/>
<rect x="148.5" y="627.6" width="21" height="3.4" rx="1.7" fill="#232323" filter="url(#bl)"/>
<rect x="172" y="627.6" width="21" height="3.4" rx="1.7" fill="#232323" filter="url(#bl)"/>
<rect x="195.5" y="627.6" width="21" height="3.4" rx="1.7" fill="#232323" filter="url(#bl)"/>
<rect x="48" y="644" width="23" height="8" rx="0.5" fill="#c8c8c8" filter="url(#bl2)"/>
<rect x="47.5" y="652.3" width="24" height="3" rx="1.5" fill="#323232" filter="url(#bl)"/>
<rect x="76" y="644" width="20" height="8" rx="0.5" fill="#c8c8c8" filter="url(#bl2)"/>
<rect x="75.5" y="652.3" width="21" height="3" rx="1.5" fill="#232323" filter="url(#bl)"/>
<rect x="101.25" y="652.6" width="19.5" height="2.4" rx="1.2" fill="#afafaf" filter="url(#bl)"/>
<rect x="126" y="652.6" width="18" height="2.4" rx="1.2" fill="#afafaf" filter="url(#bl)"/>
<rect x="149.5" y="652.6" width="19" height="2.4" rx="1.2" fill="#afafaf" filter="url(#bl)"/>
<rect x="173" y="652.6" width="19" height="2.4" rx="1.2" fill="#afafaf" filter="url(#bl)"/>
<rect x="196.5" y="652.6" width="19" height="2.4" rx="1.2" fill="#afafaf" filter="url(#bl)"/>
<rect x="47" y="674.7" width="25" height="3.2" rx="1.6" fill="#232323" filter="url(#bl)"/>
<rect x="75" y="674.7" width="22" height="3.2" rx="1.6" fill="#232323" filter="url(#bl)"/>
<rect x="100.25" y="674.7" width="21.5" height="3.2" rx="1.6" fill="#232323" filter="url(#bl)"/>
<rect x="125" y="674.7" width="20" height="3.2" rx="1.6" fill="#232323" filter="url(#bl)"/>
<rect x="148.5" y="674.7" width="21" height="3.2" rx="1.6" fill="#232323" filter="url(#bl)"/>
<rect x="172" y="674.7" width="21" height="3.2" rx="1.6" fill="#232323" filter="url(#bl)"/>
<rect x="195.5" y="674.7" width="21" height="3.2" rx="1.6" fill="#232323" filter="url(#bl)"/>
<text x="32.8" y="591.27" font-size="6.3" fill="#1e1e1e" stroke="#1e1e1e" text-anchor="end">100kD</text>
<line x1="36.2" y1="589" x2="41" y2="589" stroke="#333" stroke-width="1"/>
<text x="32.8" y="614.27" font-size="6.3" fill="#1e1e1e" stroke="#1e1e1e" text-anchor="end">70kD</text>
<line x1="36.2" y1="612" x2="41" y2="612" stroke="#333" stroke-width="1"/>
<text x="32.8" y="631.47" font-size="6.3" fill="#1e1e1e" stroke="#1e1e1e" text-anchor="end">40kD</text>
<line x1="36.2" y1="629.2" x2="41" y2="629.2" stroke="#333" stroke-width="1"/>
<text x="32.8" y="650.77" font-size="6.3" fill="#1e1e1e" stroke="#1e1e1e" text-anchor="end">130kD</text>
<line x1="36.2" y1="648.5" x2="41" y2="648.5" stroke="#333" stroke-width="1"/>
<text x="32.8" y="678.67" font-size="6.3" fill="#1e1e1e" stroke="#1e1e1e" text-anchor="end">40kD</text>
<line x1="36.2" y1="676.4" x2="41" y2="676.4" stroke="#333" stroke-width="1"/>
<polyline points="338.6,665.4 338.6,563.8 518,563.8 518,665.4" fill="none" stroke="#cfcfcf" stroke-width="1.1"/>
<line x1="338.6" y1="563.8" x2="338.6" y2="665.4" stroke="#b0b0b0" stroke-width="1"/>
<line x1="331.8" y1="577.3" x2="338.6" y2="577.3" stroke="#222" stroke-width="1.2"/>
<line x1="331.8" y1="606.5" x2="338.6" y2="606.5" stroke="#222" stroke-width="1.2"/>
<line x1="331.8" y1="636.2" x2="338.6" y2="636.2" stroke="#222" stroke-width="1.2"/>
<line x1="331.8" y1="665.4" x2="338.6" y2="665.4" stroke="#222" stroke-width="1.2"/>
<line x1="335.6" y1="665.4" x2="338.6" y2="665.4" stroke="#888" stroke-width="0.8"/>
<line x1="335.6" y1="658.06" x2="338.6" y2="658.06" stroke="#888" stroke-width="0.8"/>
<line x1="335.6" y1="650.72" x2="338.6" y2="650.72" stroke="#888" stroke-width="0.8"/>
<line x1="335.6" y1="643.38" x2="338.6" y2="643.38" stroke="#888" stroke-width="0.8"/>
<line x1="335.6" y1="636.03" x2="338.6" y2="636.03" stroke="#888" stroke-width="0.8"/>
<line x1="335.6" y1="628.69" x2="338.6" y2="628.69" stroke="#888" stroke-width="0.8"/>
<line x1="335.6" y1="621.35" x2="338.6" y2="621.35" stroke="#888" stroke-width="0.8"/>
<line x1="335.6" y1="614.01" x2="338.6" y2="614.01" stroke="#888" stroke-width="0.8"/>
<line x1="335.6" y1="606.67" x2="338.6" y2="606.67" stroke="#888" stroke-width="0.8"/>
<line x1="335.6" y1="599.32" x2="338.6" y2="599.32" stroke="#888" stroke-width="0.8"/>
<line x1="335.6" y1="591.98" x2="338.6" y2="591.98" stroke="#888" stroke-width="0.8"/>
<line x1="335.6" y1="584.64" x2="338.6" y2="584.64" stroke="#888" stroke-width="0.8"/>
<line x1="335.6" y1="577.3" x2="338.6" y2="577.3" stroke="#888" stroke-width="0.8"/>
<line x1="335.6" y1="569.96" x2="338.6" y2="569.96" stroke="#888" stroke-width="0.8"/>
<line x1="333" y1="665.4" x2="518.2" y2="665.4" stroke="#222" stroke-width="1"/>
<line x1="346.2" y1="665.4" x2="346.2" y2="668.4" stroke="#222" stroke-width="1"/>
<line x1="378.3" y1="665.4" x2="378.3" y2="668.4" stroke="#222" stroke-width="1"/>
<line x1="409.4" y1="665.4" x2="409.4" y2="668.4" stroke="#222" stroke-width="1"/>
<line x1="458.2" y1="665.4" x2="458.2" y2="668.4" stroke="#222" stroke-width="1"/>
<line x1="500.1" y1="665.4" x2="500.1" y2="668.4" stroke="#222" stroke-width="1"/>
<line x1="350" y1="665.4" x2="350" y2="666.8" stroke="#444" stroke-width="0.6"/>
<line x1="353" y1="665.4" x2="353" y2="666.8" stroke="#444" stroke-width="0.6"/>
<line x1="356" y1="665.4" x2="356" y2="666.8" stroke="#444" stroke-width="0.6"/>
<line x1="359" y1="665.4" x2="359" y2="666.8" stroke="#444" stroke-width="0.6"/>
<line x1="362" y1="665.4" x2="362" y2="666.8" stroke="#444" stroke-width="0.6"/>
<line x1="365" y1="665.4" x2="365" y2="666.8" stroke="#444" stroke-width="0.6"/>
<line x1="368" y1="665.4" x2="368" y2="666.8" stroke="#444" stroke-width="0.6"/>
<line x1="371" y1="665.4" x2="371" y2="666.8" stroke="#444" stroke-width="0.6"/>
<line x1="374" y1="665.4" x2="374" y2="666.8" stroke="#444" stroke-width="0.6"/>
<rect x="375.2" y="664.8" width="6.5" height="2.6" fill="#111"/>
<line x1="387.66" y1="665.4" x2="387.66" y2="667" stroke="#444" stroke-width="0.7"/>
<line x1="393.14" y1="665.4" x2="393.14" y2="667" stroke="#444" stroke-width="0.7"/>
<line x1="397.02" y1="665.4" x2="397.02" y2="667" stroke="#444" stroke-width="0.7"/>
<line x1="400.04" y1="665.4" x2="400.04" y2="667" stroke="#444" stroke-width="0.7"/>
<line x1="402.5" y1="665.4" x2="402.5" y2="667" stroke="#444" stroke-width="0.7"/>
<line x1="404.58" y1="665.4" x2="404.58" y2="667" stroke="#444" stroke-width="0.7"/>
<line x1="406.39" y1="665.4" x2="406.39" y2="667" stroke="#444" stroke-width="0.7"/>
<line x1="407.98" y1="665.4" x2="407.98" y2="667" stroke="#444" stroke-width="0.7"/>
<line x1="424.09" y1="665.4" x2="424.09" y2="667" stroke="#444" stroke-width="0.7"/>
<line x1="432.68" y1="665.4" x2="432.68" y2="667" stroke="#444" stroke-width="0.7"/>
<line x1="438.78" y1="665.4" x2="438.78" y2="667" stroke="#444" stroke-width="0.7"/>
<line x1="443.51" y1="665.4" x2="443.51" y2="667" stroke="#444" stroke-width="0.7"/>
<line x1="447.37" y1="665.4" x2="447.37" y2="667" stroke="#444" stroke-width="0.7"/>
<line x1="450.64" y1="665.4" x2="450.64" y2="667" stroke="#444" stroke-width="0.7"/>
<line x1="453.47" y1="665.4" x2="453.47" y2="667" stroke="#444" stroke-width="0.7"/>
<line x1="455.97" y1="665.4" x2="455.97" y2="667" stroke="#444" stroke-width="0.7"/>
<line x1="470.81" y1="665.4" x2="470.81" y2="667" stroke="#444" stroke-width="0.7"/>
<line x1="478.19" y1="665.4" x2="478.19" y2="667" stroke="#444" stroke-width="0.7"/>
<line x1="483.43" y1="665.4" x2="483.43" y2="667" stroke="#444" stroke-width="0.7"/>
<line x1="487.49" y1="665.4" x2="487.49" y2="667" stroke="#444" stroke-width="0.7"/>
<line x1="490.8" y1="665.4" x2="490.8" y2="667" stroke="#444" stroke-width="0.7"/>
<line x1="493.61" y1="665.4" x2="493.61" y2="667" stroke="#444" stroke-width="0.7"/>
<line x1="496.04" y1="665.4" x2="496.04" y2="667" stroke="#444" stroke-width="0.7"/>
<line x1="498.18" y1="665.4" x2="498.18" y2="667" stroke="#444" stroke-width="0.7"/>
<line x1="341.4" y1="676.3" x2="346.7" y2="676.3" stroke="#222" stroke-width="0.8"/>
<text x="347.6" y="678" font-size="5.2" fill="#222" stroke="#222" stroke-width="0.25" font-family="Liberation Serif, serif" textLength="9.2" lengthAdjust="spacingAndGlyphs">10</text>
<text x="357.2" y="674.6" font-size="4.8" fill="#222" stroke="#222" stroke-width="0.2" font-family="Liberation Serif, serif" textLength="3.8" lengthAdjust="spacingAndGlyphs">3</text>
<text x="376.5" y="674.3" font-size="4.8" fill="#222" stroke="#222" stroke-width="0.25" font-family="Liberation Serif, serif" textLength="4.3" lengthAdjust="spacingAndGlyphs">0</text>
<text x="406.8" y="678" font-size="5.2" fill="#222" stroke="#222" stroke-width="0.25" font-family="Liberation Serif, serif" textLength="9.2" lengthAdjust="spacingAndGlyphs">10</text>
<text x="416.5" y="674.6" font-size="4.8" fill="#222" stroke="#222" stroke-width="0.2" font-family="Liberation Serif, serif" textLength="3.3" lengthAdjust="spacingAndGlyphs">3</text>
<text x="455.6" y="678" font-size="5.2" fill="#222" stroke="#222" stroke-width="0.25" font-family="Liberation Serif, serif" textLength="9" lengthAdjust="spacingAndGlyphs">10</text>
<text x="465.5" y="674.6" font-size="4.8" fill="#222" stroke="#222" stroke-width="0.2" font-family="Liberation Serif, serif" textLength="4.3" lengthAdjust="spacingAndGlyphs">4</text>
<text x="497.5" y="678" font-size="5.2" fill="#222" stroke="#222" stroke-width="0.25" font-family="Liberation Serif, serif" textLength="8.5" lengthAdjust="spacingAndGlyphs">10</text>
<text x="506.5" y="674.6" font-size="4.8" fill="#222" stroke="#222" stroke-width="0.2" font-family="Liberation Serif, serif" textLength="3.5" lengthAdjust="spacingAndGlyphs">5</text>
<text x="312.2" y="579.5" font-size="6.6" fill="#222" stroke="#222" stroke-width="0.2" font-weight="bold" font-family="Liberation Serif, serif" textLength="17" lengthAdjust="spacingAndGlyphs">3,0K</text>
<text x="329.2" y="665.8" font-size="6.6" fill="#222" stroke="#222" stroke-width="0.2" text-anchor="end" font-weight="bold" font-family="Liberation Serif, serif">0</text>
<text x="319.8" y="618.66" font-size="7.4" fill="#222" stroke="#222" text-anchor="middle" textLength="21.6" lengthAdjust="spacingAndGlyphs" transform="rotate(-90 319.8 616)">counts</text>
<text x="421.5" y="688.07" font-size="10.2" fill="#1a1a1a" stroke="#1a1a1a" textLength="18.5" lengthAdjust="spacingAndGlyphs">MPL</text>
<polyline points="380.4,665.2 383.9,657.4 389.1,640 394.3,622.6 398.7,605.2 402.2,591.3 403.9,581.7 407.4,577.4 410.3,573.6 413.5,579.1 416.1,586.1 418.7,603.5 422.2,620.9 425.7,638.3 430,653.9 436.1,664.3 439.6,665.2" fill="none" stroke="#e0a458" stroke-width="1.2" stroke-linejoin="round"/>
<polyline points="380.4,665.2 383.5,660 385.7,647 387.4,620.9 389.1,594.8 390.9,575.7 392,574 393,572.2 393.8,576 394.3,580.9 396,594.8 398.7,617.4 401.3,638.3 404.8,653.9 410,662.6 415.2,665.2" fill="none" stroke="#5ec4e6" stroke-width="1.3" stroke-linejoin="round"/>
<polyline points="377,665.2 378.5,650 379.6,629.6 381.3,594.8 382.3,578 383.2,571.8 384,580 384.8,594.8 386,620.9 387.4,638.3 390,653.9 393.5,662.6 397.8,665.2" fill="none" stroke="#c4424a" stroke-width="1.3" stroke-linejoin="round"/>
<line x1="460" y1="578.8" x2="469.2" y2="578.8" stroke="#b83838" stroke-width="1.5"/>
<text x="473.8" y="581.46" font-size="7.4" fill="#b83434" stroke="#b83434" textLength="17" lengthAdjust="spacingAndGlyphs">UT7P</text>
<line x1="460" y1="589.6" x2="469.2" y2="589.6" stroke="#dcaa80" stroke-width="1.2"/>
<text x="473.8" y="592.26" font-size="7.4" fill="#d8ae84" stroke="#d8ae84" textLength="33.9" lengthAdjust="spacingAndGlyphs">UT711oc1</text>
<line x1="460" y1="600.1" x2="469.2" y2="600.1" stroke="#a8e4ec" stroke-width="1.2"/>
<text x="473.8" y="602.76" font-size="7.4" fill="#b4eaf0" stroke="#b4eaf0" textLength="33.9" lengthAdjust="spacingAndGlyphs">UT711oc2</text>
</svg>
</body></html>
